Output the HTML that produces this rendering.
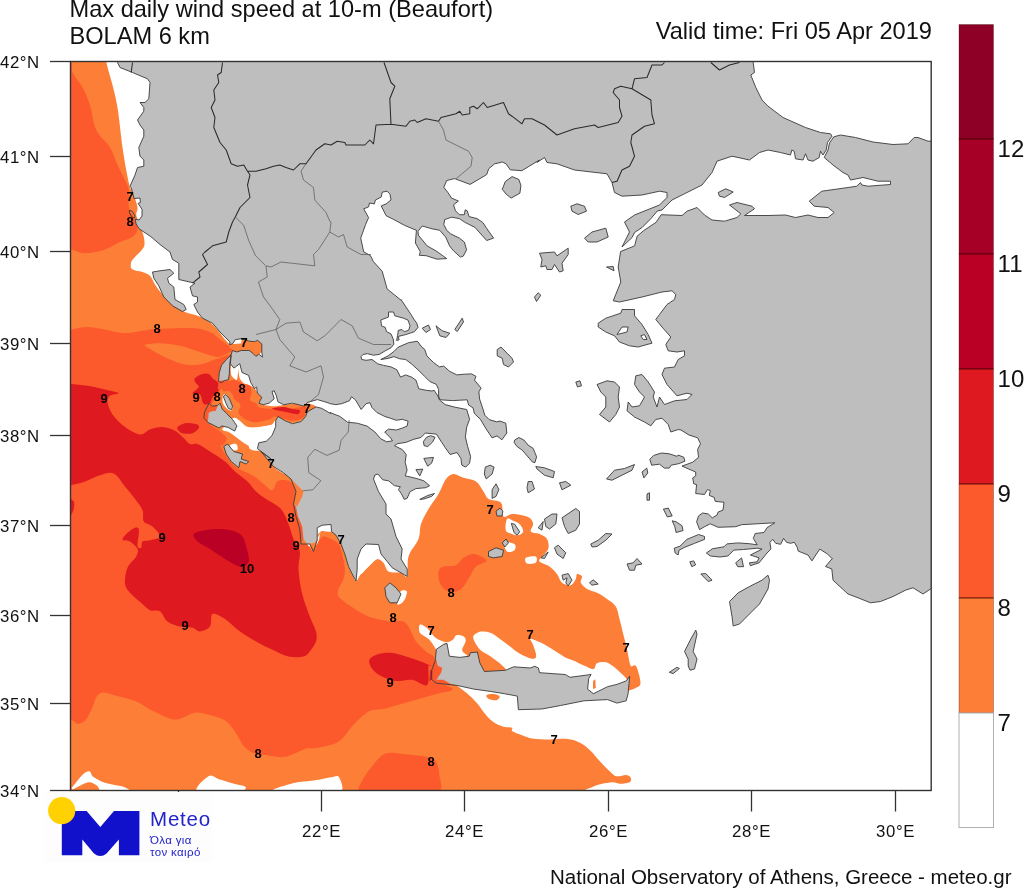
<!DOCTYPE html>
<html lang="en"><head><meta charset="utf-8"><title>Max daily wind speed at 10-m (Beaufort)</title>
<style>
html,body{margin:0;padding:0;background:#fff}
body{width:1024px;height:890px;position:relative;overflow:hidden;font-family:"Liberation Sans",sans-serif}
svg text{font-family:"Liberation Sans",sans-serif;fill:#111}
.tk{font-size:16.8px;letter-spacing:0.55px}
.cl{font-size:13px;font-weight:bold;fill:#000}
.cb{font-size:24px}
.ti{font-size:23.6px}
.ft{font-size:20.5px}
.lg1{font-size:20.5px;fill:#2222CC;letter-spacing:0.8px}
.lg2{font-size:11.5px;fill:#2222CC;letter-spacing:0.35px}
</style></head><body>
<svg width="1024" height="890" viewBox="0 0 1024 890" style="position:absolute;left:0;top:0">
<defs><clipPath id="fr"><rect x="70.5" y="61.5" width="860.7" height="729.0"/></clipPath></defs>
<g clip-path="url(#fr)">
<path d="M60.0,50.0 C61.1,31.6 98.3,48.1 106.0,50.0 C110.5,51.1 105.4,57.0 106.2,61.5 C107.3,67.3 110.6,77.3 112.5,85.0 C114.4,92.7 116.0,98.4 117.5,107.5 C119.2,117.9 121.0,137.1 122.5,147.5 C123.8,156.5 125.0,163.3 126.2,170.0 C127.5,176.7 128.8,183.3 130.0,187.5 C131.0,190.7 132.6,191.9 133.8,195.0 C135.0,198.3 137.1,204.2 137.5,207.5 C137.9,210.5 136.0,212.6 136.2,215.0 C136.5,217.4 138.0,219.2 139.0,222.0 C140.2,225.7 143.0,232.8 143.8,237.0 C144.5,240.9 145.2,243.7 143.8,247.0 C142.3,250.3 137.1,254.5 135.0,257.0 C133.4,258.9 131.9,260.1 131.2,262.0 C130.6,263.9 130.4,266.8 131.2,268.2 C132.1,269.7 134.4,270.1 136.2,270.8 C138.1,271.4 140.2,271.2 142.5,272.0 C144.8,272.8 147.9,273.7 150.0,275.8 C152.1,277.8 152.9,281.4 155.0,284.5 C157.1,287.6 159.6,291.2 162.5,294.5 C165.4,297.8 168.8,301.6 172.5,304.5 C176.2,307.4 180.8,310.1 185.0,312.0 C189.2,313.9 193.8,314.3 197.5,315.8 C201.2,317.2 204.6,318.9 207.5,320.8 C210.4,322.6 212.3,324.1 215.0,327.0 C217.9,330.1 222.5,336.6 225.0,339.5 C226.8,341.6 228.8,343.8 230.0,344.5 C230.9,345.0 231.5,344.1 232.5,343.9 C233.9,343.7 236.0,343.1 238.3,343.2 C241.0,343.3 245.7,344.5 248.6,344.6 C251.5,344.8 254.4,344.5 255.9,343.9 C257.1,343.4 256.5,341.0 257.4,341.0 C258.2,341.0 260.4,342.1 261.0,343.9 C261.7,345.7 261.4,350.3 261.0,352.0 C260.8,353.2 259.7,353.4 258.8,354.2 C258.0,354.9 256.9,356.5 255.9,356.4 C254.9,356.2 254.1,354.4 253.0,353.4 C251.9,352.5 251.1,351.0 249.3,350.5 C247.4,350.0 243.3,350.3 241.3,350.5 C239.4,350.7 237.2,350.1 236.9,352.0 C236.4,354.9 237.7,363.4 238.3,368.1 C238.9,372.7 238.6,376.9 240.5,379.8 C242.5,382.7 247.7,384.2 250.1,385.7 C251.8,386.8 253.0,387.1 254.4,388.6 C255.9,390.1 257.6,393.0 258.8,394.4 C259.9,395.7 261.8,395.9 261.8,397.4 C261.8,398.8 257.1,401.8 258.8,403.2 C260.6,404.7 268.4,405.8 272.0,406.2 C275.5,406.5 277.4,405.8 280.8,405.4 C284.2,405.1 288.6,404.1 292.5,404.0 C296.4,403.8 301.8,404.8 304.3,404.7 C305.6,404.6 305.9,403.1 307.2,403.2 C308.9,403.4 313.0,404.7 314.5,405.4 C315.5,405.9 316.5,406.9 316.0,407.6 C315.5,408.4 313.0,409.1 311.6,409.8 C310.1,410.6 308.2,410.9 307.2,412.0 C306.2,413.1 306.7,415.0 305.7,416.4 C304.7,417.9 303.5,419.7 301.3,420.8 C299.1,421.9 295.2,423.0 292.5,423.0 C289.8,423.0 287.9,421.4 285.2,420.8 C282.5,420.2 278.1,418.9 276.4,419.4 C274.7,419.8 276.2,422.8 275.0,423.7 C273.7,424.7 271.5,424.7 269.1,425.2 C266.7,425.7 263.0,426.3 260.3,426.7 C257.6,427.0 255.4,427.5 253.0,427.4 C250.5,427.3 247.9,427.0 245.7,425.9 C243.5,424.8 241.8,422.2 239.8,420.8 C237.8,419.5 235.7,417.4 233.9,417.9 C232.2,418.4 228.8,421.3 229.5,423.7 C230.3,426.2 235.2,429.6 238.3,432.5 C241.5,435.5 245.4,438.9 248.6,441.3 C251.8,443.8 254.4,445.2 257.4,447.2 C260.3,449.1 263.7,450.9 266.2,453.0 C268.6,455.2 272.9,460.6 272.0,459.9 C271.2,459.3 260.8,448.5 261.0,449.0 C261.2,449.5 269.3,459.0 273.5,462.8 C277.7,466.5 282.2,468.8 286.0,471.5 C289.8,474.2 292.7,475.9 296.0,479.0 C299.3,482.1 305.1,484.3 306.0,490.2 C307.7,501.1 304.1,535.0 306.0,544.0 C306.9,548.4 314.7,546.3 317.2,544.0 C319.8,541.7 319.2,532.5 321.5,530.2 C323.8,528.0 328.6,529.4 331.0,530.2 C333.4,531.1 334.3,533.0 336.0,535.2 C337.7,537.5 339.5,540.9 341.0,544.0 C342.5,547.1 343.5,550.2 344.8,554.0 C346.0,557.8 347.2,563.2 348.5,566.5 C349.7,569.6 351.0,571.6 352.2,574.0 C353.5,576.4 354.5,581.0 356.0,581.0 C357.5,581.0 358.9,576.4 361.0,574.0 C363.1,571.6 365.8,569.0 368.5,566.5 C371.2,564.0 374.8,559.6 377.2,559.0 C379.8,558.4 381.6,560.7 383.5,562.8 C385.4,564.8 385.6,569.8 388.5,571.5 C391.4,573.2 397.9,571.9 401.0,572.8 C403.8,573.5 406.0,579.1 407.2,576.5 C408.5,573.8 406.6,562.8 408.5,556.5 C410.4,550.2 416.4,544.4 418.5,539.0 C420.6,533.6 419.3,529.0 421.0,524.0 C422.7,519.0 425.6,514.0 428.5,509.0 C431.4,504.0 435.6,499.0 438.5,494.0 C441.4,489.0 443.5,482.3 446.0,479.0 C448.2,476.1 450.6,474.2 453.5,474.0 C456.4,473.8 459.8,476.5 463.5,477.8 C467.2,479.0 472.7,479.2 476.0,481.5 C479.3,483.8 481.4,488.6 483.5,491.5 C485.6,494.4 485.6,497.1 488.5,499.0 C491.4,500.9 498.5,499.8 501.0,502.8 C503.5,505.7 501.7,514.6 503.5,516.5 C505.3,518.4 508.9,514.2 512.0,514.0 C515.1,513.8 519.1,514.6 522.0,515.2 C524.9,515.9 527.6,516.3 529.5,517.8 C531.4,519.2 533.0,521.7 533.2,524.0 C533.5,526.3 529.7,529.8 530.8,531.5 C531.8,533.2 536.8,532.8 539.5,534.0 C542.2,535.2 545.5,536.5 547.0,539.0 C548.5,541.5 549.1,546.1 548.2,549.0 C547.4,551.9 543.5,554.4 542.0,556.5 C540.7,558.3 538.2,559.8 539.5,561.5 C540.8,563.2 546.6,564.4 549.5,566.5 C552.4,568.6 554.9,571.3 557.0,574.0 C559.1,576.7 559.7,580.9 562.0,582.8 C564.3,584.6 568.5,585.9 570.8,585.2 C573.0,584.6 574.7,580.9 575.8,579.0 C576.8,577.2 576.0,574.4 577.0,574.0 C578.0,573.6 581.4,575.0 582.0,576.5 C582.6,578.0 579.9,580.7 580.8,582.8 C581.6,584.8 584.3,587.3 587.0,589.0 C589.7,590.7 593.7,591.1 597.0,592.8 C600.3,594.4 603.9,596.7 607.0,599.0 C610.1,601.3 613.7,603.2 615.8,606.5 C617.8,609.8 618.2,614.4 619.5,619.0 C620.8,623.6 622.0,629.0 623.2,634.0 C624.5,639.0 625.8,643.7 627.0,649.0 C628.2,654.3 629.3,663.2 630.8,666.0 C631.6,667.7 634.3,664.2 635.6,665.6 C637.0,667.1 638.3,671.9 639.1,675.0 C639.9,678.1 640.9,682.2 640.3,684.4 C639.7,686.5 637.4,686.9 635.6,687.9 C633.9,688.9 632.1,689.4 629.7,690.2 C627.0,691.2 623.6,693.5 619.2,693.7 C607.7,694.3 582.1,695.3 560.6,693.7 C539.1,692.2 507.5,685.7 490.3,684.4 C477.2,683.3 463.0,685.2 457.5,685.5 C457.3,685.6 457.2,686.0 457.4,686.1 C459.0,687.5 464.1,690.8 467.4,693.7 C470.8,696.6 474.6,700.4 477.5,703.8 C480.4,707.1 482.5,710.9 485.0,713.8 C487.6,716.8 489.7,719.3 492.6,721.4 C495.5,723.5 499.4,725.4 502.7,726.4 C505.9,727.5 510.4,726.9 512.0,727.7 C513.2,728.2 511.0,730.2 512.0,730.9 C513.7,732.2 518.7,734.0 522.1,735.2 C525.4,736.5 528.0,737.8 532.1,738.5 C536.8,739.2 543.9,739.4 549.8,739.5 C555.6,739.6 562.3,738.4 567.4,739.0 C572.4,739.5 576.2,740.9 580.0,742.8 C583.7,744.7 586.7,747.2 590.0,750.3 C593.4,753.5 596.7,758.1 600.1,761.6 C603.5,765.2 607.4,769.3 610.2,771.7 C612.5,773.8 613.7,775.7 616.5,776.2 C619.2,776.8 624.1,774.7 626.5,775.0 C628.6,775.2 630.3,776.8 630.8,778.0 C631.3,779.2 631.3,781.4 629.8,782.3 C628.0,783.2 623.1,783.8 620.2,783.8 C617.4,783.8 615.8,782.2 612.7,782.3 C609.3,782.4 603.9,783.3 600.1,784.3 C596.3,785.3 592.5,787.0 590.0,788.1 C587.9,788.9 585.8,789.1 585.0,790.6 C584.2,792.1 587.5,796.8 585.0,796.9 C497.5,798.5 147.5,924.5 60.0,800.0 C-27.5,675.5 52.3,175.0 60.0,50.0Z M486.8,694.9 C488.0,694.2 492.8,693.9 495.0,694.2 C497.1,694.5 499.5,695.5 499.7,696.6 C499.9,697.6 498.1,700.0 496.2,700.3 C494.2,700.6 489.5,699.3 488.0,698.4 C486.7,697.7 485.6,695.6 486.8,694.9Z M593.0,680.9 C593.2,679.7 594.9,678.2 595.3,679.2 C595.8,680.4 596.2,686.2 595.8,687.9 C595.5,689.1 593.4,690.2 593.0,689.1 C592.5,687.9 592.6,682.5 593.0,680.9Z" fill="#FD7E36" />
<path d="M420.0,624.6 C421.2,623.8 424.6,626.1 427.0,628.1 C429.6,630.3 432.1,635.2 435.2,637.5 C438.4,639.8 442.8,641.8 445.8,642.2 C448.7,642.6 451.1,641.0 452.8,639.8 C454.6,638.7 454.6,635.7 456.3,635.2 C458.1,634.6 461.8,635.3 463.4,636.3 C464.9,637.3 465.9,638.9 465.7,641.0 C465.5,643.4 462.0,647.8 462.2,650.4 C462.4,652.9 469.2,655.1 466.9,656.2 C464.5,657.4 451.4,659.4 448.1,657.4 C444.8,655.5 447.7,646.7 447.0,644.5 C446.5,643.2 444.1,643.3 443.4,644.5 C442.1,646.9 439.9,657.6 438.7,658.6 C437.6,659.6 437.9,653.4 436.4,650.4 C434.8,647.3 432.1,642.8 429.4,639.8 C426.6,636.9 421.6,635.3 420.0,632.8 C418.4,630.3 418.8,625.4 420.0,624.6Z M473.4,638.7 C473.1,637.3 472.9,636.1 473.9,635.2 C475.2,634.0 478.2,632.0 480.9,631.6 C483.7,631.2 487.2,631.6 490.3,632.8 C493.4,634.0 496.6,636.5 499.7,638.7 C502.8,640.8 505.9,643.4 509.1,645.7 C512.2,648.0 515.3,650.8 518.4,652.7 C521.6,654.7 525.1,656.4 527.8,657.4 C530.5,658.4 533.5,659.2 534.8,658.6 C536.2,658.0 536.3,655.8 536.0,653.9 C535.6,651.4 533.5,645.9 532.5,643.4 C531.7,641.4 529.4,639.1 530.1,638.7 C530.9,638.3 534.5,639.8 537.2,641.0 C539.9,642.2 543.4,643.9 546.6,645.7 C549.7,647.5 552.8,649.6 555.9,651.6 C559.1,653.5 562.2,655.9 565.3,657.4 C568.4,659.0 571.6,659.6 574.7,660.9 C577.8,662.3 580.9,664.3 584.0,665.6 C587.2,667.0 591.3,669.5 593.4,669.1 C595.6,668.7 595.0,664.4 596.9,663.3 C598.9,662.1 602.6,661.7 605.1,662.1 C607.7,662.5 609.8,664.1 612.2,665.6 C614.5,667.2 616.9,669.3 619.2,671.5 C621.5,673.6 624.7,676.4 626.2,678.5 C627.7,680.6 630.5,682.8 628.6,684.4 C625.5,686.9 616.7,693.1 607.5,693.7 C596.2,694.5 576.2,691.4 560.6,689.1 C545.0,686.7 522.7,682.8 513.7,679.7 C509.3,678.1 509.1,673.0 506.7,670.3 C504.4,667.6 502.4,665.6 499.7,663.3 C496.9,660.9 493.4,658.4 490.3,656.2 C487.2,654.1 483.3,652.3 480.9,650.4 C478.6,648.5 477.5,646.5 476.2,644.5 C475.0,642.6 473.8,640.2 473.4,638.7Z M233.9,417.9 C235.7,417.4 236.6,419.5 238.3,420.8 C240.3,422.3 243.2,425.5 245.7,426.7 C248.1,427.8 250.1,427.8 253.0,427.8 C255.9,427.8 260.1,427.2 263.2,426.7 C266.4,426.1 270.1,425.5 272.0,424.5 C273.7,423.6 274.0,420.9 275.0,420.8 C275.9,420.7 277.8,422.3 277.9,423.7 C278.0,425.2 276.7,427.4 275.7,429.6 C274.7,431.8 273.6,434.9 272.0,436.9 C270.4,439.0 268.4,441.0 266.2,442.1 C264.0,443.2 260.3,442.4 258.8,443.5 C257.4,444.6 259.1,448.3 257.4,448.6 C255.7,449.0 251.5,447.2 248.6,445.7 C245.7,444.3 243.0,442.1 239.8,439.9 C236.6,437.7 232.5,434.2 229.5,432.5 C226.8,430.9 222.5,431.1 222.2,429.6 C222.0,428.1 226.1,425.7 228.1,423.7 C230.0,421.8 232.2,418.4 233.9,417.9Z M208.7,412.8 C209.2,411.4 212.5,411.9 213.4,413.5 C214.3,415.1 214.7,420.9 214.2,422.3 C213.7,423.6 211.2,422.8 210.5,421.5 C209.6,420.0 208.3,414.1 208.7,412.8Z M223.0,395.9 C223.6,394.5 225.5,393.3 226.6,394.4 C228.2,396.2 231.6,403.5 232.5,406.2 C233.0,407.9 232.6,410.1 231.7,410.6 C230.9,411.1 228.8,410.3 227.4,409.1 C225.9,407.9 223.7,405.4 223.0,403.2 C222.2,401.0 222.3,397.4 223.0,395.9Z M231.7,364.4 C233.2,362.7 238.2,362.3 239.8,363.7 C241.4,365.0 239.8,370.5 241.3,372.5 C242.7,374.4 247.0,373.7 248.6,375.4 C250.2,377.1 251.5,381.4 250.8,382.7 C250.1,384.1 245.8,384.0 244.2,383.5 C242.6,383.0 241.9,381.6 241.3,379.8 C240.4,377.3 239.8,368.4 239.1,368.4 C238.3,368.4 237.7,378.1 236.9,379.8 C236.3,381.0 234.9,379.3 233.9,378.3 C233.0,377.4 231.3,376.0 231.0,373.9 C230.6,371.6 230.3,366.1 231.7,364.4Z M232.5,343.9 C231.5,343.3 233.9,340.4 235.4,339.5 C236.9,338.7 240.3,338.2 241.3,338.8 C242.2,339.4 242.7,342.3 241.3,343.2 C239.8,344.0 233.5,344.5 232.5,343.9Z M230.0,445.2 C230.6,444.2 235.0,443.3 236.2,444.0 C237.5,444.7 238.1,448.5 237.5,449.5 C236.9,450.5 233.8,451.0 232.5,450.2 C231.2,449.5 229.4,446.3 230.0,445.2Z M250.0,441.5 C251.7,440.2 258.3,440.0 260.0,441.5 C261.7,443.0 261.7,449.0 260.0,450.2 C258.3,451.5 251.7,450.5 250.0,449.0 C248.3,447.5 248.3,442.8 250.0,441.5Z M317.2,527.8 C317.9,526.1 320.0,525.1 322.2,524.5 C324.5,523.9 329.5,522.8 331.0,524.0 C332.5,525.2 333.1,530.3 331.5,531.5 C329.9,532.7 323.7,530.5 321.5,531.0 C319.7,531.4 319.2,535.0 318.5,534.5 C317.8,534.0 316.6,529.4 317.2,527.8Z M357.2,569.0 C356.6,566.5 356.6,562.3 357.2,559.0 C357.9,555.7 359.5,551.5 361.0,549.0 C362.4,546.6 363.3,544.7 366.0,544.0 C368.9,543.2 376.0,542.8 378.5,544.5 C381.0,546.2 380.1,551.1 381.0,554.0 C381.9,556.9 384.6,561.2 384.0,562.0 C383.4,562.8 379.8,558.2 377.2,559.0 C374.7,559.8 371.2,564.0 368.5,566.5 C365.8,569.0 362.9,573.6 361.0,574.0 C359.1,574.4 357.9,571.4 357.2,569.0Z M274.8,467.0 C276.8,468.0 287.0,474.2 288.5,475.2 C290.0,476.3 285.4,474.4 283.5,473.5 C281.4,472.5 277.5,470.1 276.0,469.0 C275.2,468.4 273.9,466.6 274.8,467.0Z M400.5,591.5 C401.9,589.5 405.6,590.2 406.5,591.0 C407.4,591.8 406.7,594.5 406.0,596.5 C405.3,598.5 403.7,601.5 402.2,602.8 C400.8,604.0 397.5,605.9 397.2,604.0 C397.0,602.1 399.0,593.7 400.5,591.5Z M507.0,519.0 C508.0,517.3 510.1,519.5 512.0,520.2 C514.1,521.1 517.6,522.1 519.5,524.0 C521.4,525.9 523.5,529.6 523.2,531.5 C523.0,533.4 520.1,534.8 518.2,535.2 C516.4,535.7 514.1,534.8 512.0,534.0 C509.9,533.2 506.6,532.8 505.8,530.2 C504.9,527.8 506.0,520.7 507.0,519.0Z M504.5,542.8 C505.8,541.5 512.8,542.8 514.5,544.0 C516.2,545.2 515.8,549.0 514.5,550.2 C513.2,551.5 508.7,552.8 507.0,551.5 C505.3,550.2 503.2,544.0 504.5,542.8Z M525.8,557.8 C527.2,556.6 534.1,555.7 535.8,556.5 C537.4,557.3 537.2,561.6 535.8,562.8 C534.3,563.9 528.7,564.3 527.0,563.5 C525.3,562.7 524.3,558.9 525.8,557.8Z M71.7,788.1 C73.4,785.6 80.1,777.0 83.1,774.2 C85.1,772.3 87.7,770.8 89.4,771.2 C91.0,771.6 91.0,775.2 93.1,776.7 C95.9,778.7 100.7,781.4 105.7,783.0 C110.7,784.7 119.3,785.3 123.3,786.8 C126.4,787.9 132.8,791.1 129.6,791.8 C126.1,792.7 107.4,792.9 101.9,791.8 C98.8,791.2 99.2,787.2 96.9,785.6 C94.6,784.0 91.8,781.7 88.1,782.3 C84.1,782.9 75.7,788.4 73.0,789.3 C72.3,789.6 71.3,788.7 71.7,788.1Z M197.6,791.8 C192.1,789.2 205.3,778.1 208.9,776.0 C212.5,773.9 214.9,778.0 219.0,779.3 C223.2,780.6 229.7,782.5 234.1,783.8 C238.5,785.1 244.1,785.5 245.4,786.8 C246.7,788.2 244.1,791.6 241.6,791.8 C233.7,792.7 203.0,794.5 197.6,791.8Z M273.6,791.8 C265.9,790.4 287.0,784.9 293.8,783.0 C300.5,781.2 307.6,781.5 313.9,780.5 C320.2,779.6 327.3,777.8 331.5,777.3 C334.5,776.9 337.7,774.8 339.1,777.3 C340.4,779.7 345.5,790.6 339.8,791.8 C328.9,794.3 281.3,793.3 273.6,791.8Z" fill="#fff" />
<path d="M60.0,50.0 C60.4,43.6 69.2,57.8 71.2,61.5 C73.3,65.2 70.7,68.4 72.5,72.5 C74.4,76.8 79.6,82.1 82.5,87.5 C85.4,92.9 87.7,97.9 90.0,105.0 C92.3,112.1 92.9,122.9 96.2,130.0 C99.6,137.1 106.5,141.7 110.0,147.5 C113.5,153.3 115.0,159.6 117.5,165.0 C120.0,170.4 123.1,175.8 125.0,180.0 C126.8,183.9 128.2,185.8 128.8,190.0 C129.4,194.6 128.1,203.3 128.8,207.5 C129.2,210.8 131.5,212.6 132.5,215.0 C133.5,217.4 134.2,219.6 135.0,222.0 C135.8,224.4 137.9,227.0 137.5,229.5 C137.1,232.0 135.4,234.9 132.5,237.0 C129.6,239.1 124.6,239.9 120.0,242.0 C115.4,244.1 110.8,247.6 105.0,249.5 C99.2,251.4 90.7,253.2 85.0,253.2 C79.3,253.2 74.9,250.1 70.8,249.5 C66.6,248.9 60.2,253.8 60.0,249.5 C58.2,216.2 58.1,81.3 60.0,50.0Z M60.0,329.5 C60.1,325.2 66.5,329.9 70.8,329.5 C75.3,329.1 81.8,327.0 87.5,327.0 C93.2,327.0 98.8,328.5 105.0,329.5 C111.2,330.5 117.5,333.2 125.0,333.2 C132.5,333.2 141.7,330.3 150.0,329.5 C158.3,328.7 167.5,328.5 175.0,328.2 C182.5,328.0 189.2,327.6 195.0,328.2 C200.8,328.9 205.8,330.1 210.0,332.0 C214.2,333.9 216.7,337.0 220.0,339.5 C223.3,342.0 227.9,344.9 230.0,347.0 C231.6,348.6 233.1,350.0 232.5,352.0 C231.9,354.0 228.5,357.1 226.6,359.3 C224.8,361.5 222.7,363.0 221.5,365.2 C220.3,367.4 219.8,369.9 219.3,372.5 C218.8,375.0 218.2,379.2 218.6,380.5 C218.9,381.7 220.3,380.4 221.5,380.5 C223.1,380.7 226.0,381.4 228.1,381.3 C230.2,381.1 232.2,379.8 233.9,379.8 C235.7,379.8 236.6,380.5 238.3,381.3 C240.0,382.0 242.2,383.5 244.2,384.2 C246.1,384.9 248.8,384.2 250.1,385.7 C251.3,387.1 251.5,390.5 251.5,393.0 C251.5,395.4 249.3,398.6 250.1,400.3 C250.8,402.0 254.4,402.0 255.9,403.2 C257.4,404.5 256.9,406.9 258.8,407.6 C261.5,408.6 267.9,408.7 272.0,409.1 C276.2,409.5 279.4,410.1 283.7,409.8 C288.1,409.6 294.7,408.2 298.4,407.6 C301.3,407.1 304.5,405.4 305.7,406.2 C306.9,406.9 306.2,410.1 305.7,412.0 C305.2,414.0 305.0,416.4 302.8,417.9 C300.6,419.4 295.7,420.7 292.5,420.8 C289.4,420.9 286.7,419.4 283.7,418.6 C280.8,417.9 277.4,416.3 275.0,416.4 C272.5,416.5 271.6,418.6 269.1,419.4 C265.9,420.3 259.3,422.0 255.9,422.3 C252.9,422.5 251.0,421.8 248.6,420.8 C246.1,419.8 243.0,417.9 241.3,416.4 C239.7,415.0 238.5,413.7 238.3,412.0 C238.2,410.3 240.5,407.9 240.5,406.2 C240.5,404.5 239.4,403.0 238.3,401.8 C237.2,400.6 234.9,400.1 233.9,398.8 C233.0,397.6 233.5,395.8 232.5,394.4 C231.5,393.1 229.5,391.3 228.1,390.8 C226.6,390.3 224.8,391.9 223.7,391.5 C222.6,391.2 222.6,387.7 221.5,388.6 C220.0,389.8 216.7,395.9 214.9,398.8 C213.1,401.7 212.0,404.0 210.5,406.2 C209.0,408.4 207.1,410.1 206.1,412.0 C205.1,414.0 204.2,415.9 204.6,417.9 C205.1,419.8 206.9,421.8 209.0,423.7 C211.5,425.9 216.4,428.6 219.3,431.1 C222.2,433.5 226.1,436.0 226.6,438.4 C227.1,440.8 223.3,444.8 222.2,445.7 C221.4,446.4 219.6,442.9 220.0,444.0 C220.5,445.4 222.5,450.3 225.0,454.0 C227.5,457.8 230.8,463.2 235.0,466.5 C239.2,469.8 246.5,472.1 250.0,474.0 C252.5,475.3 253.8,476.1 256.0,477.8 C258.2,479.4 260.8,481.9 263.5,484.0 C266.2,486.1 270.0,490.7 272.2,490.2 C274.5,489.8 275.0,483.2 277.2,481.5 C279.5,479.8 283.3,479.8 286.0,480.2 C288.7,480.7 291.4,481.7 293.5,484.0 C295.6,486.3 298.1,490.2 298.5,494.0 C298.9,497.8 296.1,502.8 296.0,506.5 C295.9,510.2 297.0,513.2 298.0,516.5 C299.0,519.8 301.3,522.8 302.2,526.5 C303.2,530.2 302.7,536.1 303.5,539.0 C304.2,541.4 305.7,542.0 307.2,544.0 C308.9,546.1 311.6,551.9 313.5,551.5 C315.4,551.1 316.8,544.0 318.5,541.5 C320.1,539.1 321.4,536.9 323.5,536.5 C325.6,536.1 328.5,537.8 331.0,539.0 C333.5,540.2 336.6,541.5 338.5,544.0 C340.4,546.5 341.2,549.9 342.2,554.0 C343.3,558.2 344.5,564.8 344.8,569.0 C345.0,573.0 344.5,575.7 343.5,579.0 C342.5,582.3 339.3,586.1 338.5,589.0 C337.7,591.9 336.8,594.1 338.5,596.5 C340.6,599.4 346.0,603.2 351.0,606.5 C356.0,609.8 361.8,614.0 368.5,616.5 C375.2,619.0 385.2,620.7 391.0,621.5 C395.9,622.2 400.4,620.2 403.5,621.5 C406.6,622.8 407.7,625.7 409.8,629.0 C411.8,632.3 413.3,637.8 416.0,641.5 C418.7,645.2 422.9,648.6 426.0,651.5 C429.1,654.4 434.1,654.5 434.8,659.0 C435.4,663.5 430.1,674.9 429.7,678.6 C429.5,680.0 430.9,680.5 432.2,681.1 C435.1,682.4 443.9,684.7 447.3,686.1 C449.6,687.1 454.0,688.7 452.3,689.9 C450.6,691.2 442.7,692.2 437.2,693.7 C431.8,695.2 425.5,697.0 419.6,698.7 C413.7,700.4 407.9,702.1 402.0,703.8 C396.1,705.4 389.8,707.5 384.4,708.8 C378.9,710.0 374.3,708.8 369.3,711.3 C364.2,713.8 358.4,719.7 354.2,723.9 C350.0,728.1 347.0,733.3 344.1,736.5 C341.4,739.3 340.1,741.2 336.5,742.8 C332.3,744.7 324.0,746.8 318.9,747.8 C314.0,748.8 310.1,747.7 306.3,748.6 C302.6,749.4 300.0,751.4 296.3,752.8 C292.5,754.3 288.3,756.7 283.7,757.1 C279.1,757.5 273.2,755.9 268.6,755.4 C264.0,754.8 260.1,755.6 256.0,754.1 C251.9,752.6 247.4,749.9 244.1,746.5 C240.9,743.2 239.5,738.2 236.6,734.0 C233.7,729.8 230.3,724.3 226.5,721.4 C222.8,718.4 219.0,717.8 213.9,716.3 C208.9,714.9 201.8,712.2 196.3,712.6 C190.9,712.9 185.4,717.3 181.2,718.4 C177.3,719.3 175.1,719.9 171.2,718.9 C166.5,717.7 159.4,714.2 153.5,711.3 C147.7,708.4 141.8,703.8 135.9,701.2 C130.0,698.7 123.8,697.7 118.3,696.2 C112.8,694.7 106.8,692.4 103.2,692.4 C100.3,692.4 98.6,693.8 96.9,696.2 C95.0,698.9 93.8,704.8 91.9,708.8 C90.0,712.8 87.9,717.6 85.6,720.1 C83.3,722.6 80.4,723.9 78.0,723.9 C75.6,723.9 74.2,720.7 71.2,720.1 C68.3,719.5 60.5,724.4 60.4,720.1 C58.5,655.0 58.3,394.6 60.0,329.5Z M438.5,571.5 C439.1,568.8 440.8,567.5 443.5,566.5 C446.4,565.5 452.7,566.7 456.0,565.2 C459.3,563.8 460.6,559.6 463.5,557.8 C466.4,555.9 470.2,554.0 473.5,554.0 C476.8,554.0 481.4,556.5 483.5,557.8 C485.0,558.7 487.2,560.1 486.0,561.5 C484.8,563.0 478.7,564.0 476.0,566.5 C473.3,569.0 471.8,573.2 469.8,576.5 C467.7,579.8 465.8,584.0 463.5,586.5 C461.2,589.0 458.9,590.9 456.0,591.5 C453.1,592.1 448.7,591.7 446.0,590.2 C443.3,588.8 441.0,585.9 439.8,582.8 C438.5,579.6 437.9,574.2 438.5,571.5Z M360.5,791.8 C355.4,791.0 361.1,783.5 363.0,779.3 C364.9,775.1 368.6,770.7 371.8,766.7 C374.9,762.7 378.5,757.7 381.8,755.4 C385.2,753.0 387.8,753.0 391.9,752.8 C396.1,752.7 401.1,753.9 407.0,754.6 C412.9,755.3 422.3,755.9 427.2,757.1 C431.0,758.1 434.0,758.8 436.0,761.6 C438.0,764.5 438.9,769.2 439.2,774.2 C439.5,779.3 444.6,790.3 437.7,791.8 C424.6,794.8 372.9,793.9 360.5,791.8Z" fill="#FC592C" />
<path d="M145.0,344.5 C147.5,344.1 154.2,343.0 160.0,343.2 C165.8,343.5 173.3,344.3 180.0,345.8 C186.7,347.2 193.8,350.1 200.0,352.0 C206.2,353.9 213.3,356.6 217.5,357.0 C220.6,357.3 222.7,355.4 225.0,354.5 C227.3,353.6 230.0,351.7 231.2,351.5 C232.1,351.4 233.3,352.9 232.5,353.2 C229.8,354.6 220.4,357.6 215.0,359.5 C209.6,361.4 205.0,363.7 200.0,364.5 C195.0,365.3 190.0,365.3 185.0,364.5 C180.0,363.7 175.0,361.6 170.0,359.5 C165.0,357.4 159.2,354.3 155.0,352.0 C150.9,349.7 146.7,347.0 145.0,345.8 C144.6,345.4 144.5,344.6 145.0,344.5Z" fill="#FD7E36" />
<path d="M60.0,384.0 C60.5,379.7 66.5,383.7 70.8,384.0 C75.3,384.3 81.8,384.8 87.5,385.8 C93.2,386.7 99.8,388.2 105.0,389.5 C110.2,390.8 117.9,392.2 118.8,393.2 C119.6,394.3 111.9,394.3 110.0,395.8 C108.1,397.2 107.1,399.3 107.5,402.0 C107.9,405.1 109.6,410.3 112.5,414.5 C115.4,418.7 120.4,423.7 125.0,427.0 C129.6,430.3 135.8,434.1 140.0,434.5 C144.2,434.9 146.2,430.8 150.0,429.5 C153.8,428.2 158.3,426.8 162.5,427.0 C166.7,427.2 171.7,429.1 175.0,430.8 C178.3,432.4 180.0,434.8 182.5,437.0 C185.0,439.2 187.5,442.8 190.0,444.0 C192.5,445.2 194.7,442.9 197.5,444.0 C200.8,445.2 205.4,448.6 210.0,451.5 C214.6,454.4 220.8,458.2 225.0,461.5 C229.2,464.8 231.2,468.2 235.0,471.5 C238.8,474.8 244.0,478.2 247.5,481.5 C251.0,484.8 252.9,488.6 256.0,491.5 C259.1,494.4 261.9,496.1 266.0,499.0 C270.2,501.9 277.2,504.8 281.0,509.0 C284.8,513.2 286.4,519.0 288.5,524.0 C290.6,529.0 291.6,534.4 293.5,539.0 C295.4,543.6 298.9,546.5 299.8,551.5 C300.6,556.5 298.1,562.0 298.5,569.0 C298.9,576.1 300.4,586.1 302.2,594.0 C304.1,601.9 307.5,610.2 309.8,616.5 C312.0,622.6 315.0,627.3 316.0,631.5 C317.0,635.4 317.0,638.2 316.0,641.5 C315.0,644.8 311.8,649.0 309.8,651.5 C307.7,654.0 306.6,655.8 303.5,656.5 C300.0,657.3 293.9,657.8 288.5,656.5 C283.1,655.2 276.4,651.5 271.0,649.0 C265.6,646.5 261.2,644.4 256.0,641.5 C250.8,638.6 245.2,635.2 240.0,631.5 C234.8,627.8 229.6,621.9 225.0,619.0 C220.5,616.1 215.0,612.8 212.5,614.0 C210.0,615.2 212.1,623.6 210.0,626.5 C207.9,629.4 202.9,631.3 200.0,631.5 C197.1,631.7 195.8,628.6 192.5,627.8 C189.2,626.9 184.2,627.5 180.0,626.5 C175.8,625.5 170.8,624.0 167.5,621.5 C164.2,619.0 162.9,613.4 160.0,611.5 C157.1,609.6 152.9,611.5 150.0,610.2 C147.1,609.0 145.5,606.6 142.5,604.0 C139.4,601.3 134.2,597.3 131.2,594.0 C128.3,590.7 125.6,588.4 125.0,584.0 C124.4,579.6 125.6,572.3 127.5,567.8 C129.4,563.2 134.6,559.6 136.2,556.5 C137.7,553.8 138.5,551.5 137.5,549.0 C136.5,546.5 132.5,543.2 130.0,541.5 C127.5,539.8 122.1,541.1 122.5,539.0 C122.9,536.9 129.8,530.7 132.5,529.0 C134.6,527.7 138.1,526.6 138.8,529.0 C139.6,531.9 137.1,543.4 137.5,546.5 C137.7,548.1 140.4,548.6 141.2,547.8 C142.1,546.9 141.0,542.8 142.5,541.5 C144.0,540.2 147.1,541.1 150.0,540.2 C152.9,539.4 159.6,538.8 160.0,536.5 C160.4,534.2 155.2,529.0 152.5,526.5 C149.8,524.0 145.4,524.2 143.8,521.5 C142.1,518.8 144.0,514.0 142.5,510.2 C141.0,506.5 137.9,503.0 135.0,499.0 C132.1,495.0 128.5,490.8 125.0,486.5 C121.5,482.2 117.9,475.4 113.8,473.5 C109.6,471.6 104.8,473.9 100.0,475.2 C95.2,476.6 89.9,479.8 85.0,481.5 C80.1,483.2 74.9,484.6 70.8,485.2 C66.6,485.9 60.5,489.5 60.0,485.2 C58.2,468.4 58.2,400.9 60.0,384.0Z M177.5,427.0 C178.7,425.9 181.7,423.7 185.0,423.2 C188.3,422.8 195.2,423.7 197.5,424.5 C199.0,425.0 199.5,426.9 198.8,428.2 C197.9,429.7 195.2,432.4 192.5,433.2 C189.8,434.1 184.9,433.8 182.5,433.2 C180.3,432.8 178.8,431.0 178.0,430.0 C177.2,429.1 176.6,427.8 177.5,427.0Z M195.0,378.2 C196.2,376.9 200.2,374.7 202.5,374.0 C204.8,373.3 207.1,373.3 208.8,374.0 C210.4,374.7 211.0,376.9 212.5,378.2 C214.0,379.6 216.2,380.5 217.5,382.0 C218.8,383.5 220.2,384.9 220.0,387.0 C219.8,389.1 217.5,392.8 216.2,394.5 C215.2,395.9 213.5,395.5 212.5,397.0 C211.5,398.5 211.2,402.0 210.0,403.2 C208.8,404.5 206.2,404.7 205.0,404.5 C203.8,404.3 203.1,403.3 202.5,402.0 C201.7,400.3 201.7,396.0 200.0,394.5 C198.3,393.0 192.7,394.5 192.5,393.2 C192.3,392.0 198.3,388.9 198.8,387.0 C199.2,385.1 195.6,383.5 195.0,382.0 C194.4,380.6 194.0,379.3 195.0,378.2Z M67.5,499.0 C68.5,496.7 72.7,499.8 73.8,501.5 C74.8,503.2 74.2,506.7 73.8,509.0 C73.2,511.3 71.8,514.2 70.8,515.2 C69.8,516.2 67.8,516.5 67.5,515.2 C67.0,512.5 66.5,501.3 67.5,499.0Z M369.8,659.0 C371.1,657.0 375.0,655.0 378.5,654.0 C382.0,653.0 386.4,652.3 391.0,652.8 C395.6,653.2 401.0,655.0 406.0,656.5 C411.0,658.0 416.8,659.9 421.0,661.5 C425.1,663.1 429.8,665.2 431.0,666.0 C431.9,666.5 428.6,665.0 428.4,666.0 C427.8,669.1 429.9,682.6 427.2,684.9 C424.4,687.2 417.1,680.5 412.1,679.8 C407.0,679.2 401.1,681.3 397.0,681.1 C392.8,680.9 390.2,679.8 386.9,678.6 C383.5,677.3 379.5,675.6 376.8,673.6 C374.1,671.5 371.7,668.4 370.5,666.0 C369.3,663.6 368.4,661.0 369.8,659.0Z M272.0,408.4 C273.0,407.8 280.3,406.8 283.7,406.9 C287.2,407.0 289.8,408.5 292.5,409.1 C295.2,409.7 299.0,409.7 299.9,410.6 C300.7,411.4 299.3,413.9 297.7,414.2 C296.0,414.6 292.8,413.4 289.6,412.8 C286.3,412.1 280.8,411.3 277.9,410.6 C275.5,410.0 271.1,409.0 272.0,408.4Z" fill="#DE1A20" />
<path d="M193.8,534.0 C195.0,532.1 200.6,531.1 205.0,530.2 C209.4,529.4 215.0,528.8 220.0,529.0 C225.0,529.2 231.2,530.2 235.0,531.5 C238.4,532.6 240.6,534.0 242.5,536.5 C244.4,539.0 245.2,542.4 246.2,546.5 C247.3,550.7 249.8,558.2 248.8,561.5 C247.7,564.8 244.0,566.9 240.0,566.5 C236.0,566.1 230.0,561.9 225.0,559.0 C220.0,556.1 214.6,551.9 210.0,549.0 C205.4,546.1 200.2,544.0 197.5,541.5 C195.0,539.2 192.5,535.9 193.8,534.0Z" fill="#BB0026" />
<path d="M117.5,50.0 L117.5,62.5 L120.0,67.5 L132.5,72.5 L147.5,78.8 L150.0,82.5 L148.8,98.8 L145.0,102.5 L140.0,102.5 L143.8,107.5 L143.8,111.2 L137.5,120.0 L140.0,125.0 L143.8,130.0 L143.8,136.2 L138.8,147.5 L140.0,156.2 L143.8,160.0 L143.8,166.2 L137.5,167.5 L135.0,175.0 L130.0,186.2 L131.2,187.8 L134.2,198.6 L140.0,198.0 L140.4,202.5 L138.1,203.4 L142.0,209.3 L142.0,216.1 L139.1,220.0 L135.2,219.1 L136.1,223.9 L139.1,228.8 L150.8,236.6 L160.0,244.5 L170.0,252.0 L172.5,259.5 L178.8,263.2 L178.8,279.5 L195.0,283.2 L190.0,287.0 L192.5,295.8 L197.5,297.0 L197.5,302.0 L193.8,304.5 L197.5,312.0 L202.5,318.2 L212.5,323.2 L220.0,332.0 L230.0,342.0 L229.5,344.6 L232.5,343.9 L235.4,339.5 L241.3,338.8 L248.6,341.0 L254.4,341.7 L257.4,340.3 L261.8,343.9 L261.8,352.0 L262.5,357.1 L258.8,354.2 L255.9,356.4 L253.0,353.4 L249.3,350.5 L241.3,350.5 L236.9,352.0 L232.5,350.5 L231.0,354.9 L231.0,357.1 L230.3,363.7 L233.9,368.1 L239.8,363.7 L242.0,372.5 L248.6,375.4 L250.8,382.7 L254.4,388.6 L256.6,387.1 L257.4,393.0 L261.8,397.4 L258.8,403.2 L263.2,404.7 L269.1,403.2 L274.2,398.8 L272.0,391.5 L274.2,390.8 L276.4,395.9 L277.9,401.8 L283.7,404.7 L292.5,403.2 L304.3,406.2 L307.2,402.5 L317.4,399.6 L324.8,401.8 L329.2,403.2 L330.0,403.7 L335.9,404.6 L341.7,403.7 L349.5,400.7 L351.5,396.8 L355.4,399.8 L361.2,409.5 L366.1,403.7 L370.0,402.7 L372.0,407.6 L376.9,412.5 L384.7,416.4 L390.5,418.3 L396.4,420.3 L402.3,419.3 L408.1,421.2 L407.1,426.1 L402.3,428.1 L396.4,430.0 L388.6,429.1 L384.7,432.0 L390.5,437.9 L392.5,440.8 L386.6,441.8 L380.8,438.8 L374.9,432.0 L367.1,426.1 L357.3,423.2 L347.6,422.2 L339.8,416.4 L330.0,412.5 L330.6,413.5 L321.8,408.4 L316.0,406.9 L307.2,412.0 L305.7,416.4 L301.3,421.5 L292.5,423.7 L285.2,420.8 L277.9,416.4 L275.7,420.8 L275.7,426.7 L272.0,435.5 L266.2,441.3 L258.8,442.8 L257.4,448.6 L263.2,453.0 L269.1,457.4 L272.0,459.9 L261.0,451.5 L273.5,466.5 L283.5,472.8 L291.0,479.0 L296.0,491.5 L293.5,504.0 L296.0,516.5 L299.8,529.0 L301.0,544.0 L309.8,544.0 L313.5,551.5 L317.2,540.2 L317.2,527.8 L322.2,525.2 L331.0,524.5 L331.5,531.5 L336.0,535.2 L341.0,544.0 L344.8,554.0 L348.5,566.5 L352.2,574.0 L356.0,581.0 L357.2,569.0 L357.2,559.0 L361.0,549.0 L366.0,544.0 L378.5,544.5 L381.0,554.0 L387.2,561.5 L392.2,567.8 L401.0,572.8 L407.2,576.5 L407.2,569.0 L401.0,559.0 L402.2,549.0 L396.0,536.5 L391.0,519.0 L386.0,514.0 L386.0,504.0 L378.5,491.5 L373.5,479.0 L374.9,475.0 L377.9,474.0 L382.7,479.8 L388.6,480.8 L394.5,485.7 L400.3,486.7 L398.4,489.6 L401.3,493.5 L404.2,499.4 L407.1,498.4 L410.1,491.6 L415.9,488.6 L425.7,487.7 L429.6,485.7 L423.8,480.8 L417.9,478.9 L410.1,476.9 L405.2,475.9 L407.1,470.1 L405.2,462.3 L406.2,454.5 L402.3,449.6 L394.5,445.7 L397.4,443.7 L406.2,442.3 L414.0,439.2 L421.0,437.5 L425.3,433.0 L436.4,434.1 L441.7,442.3 L445.2,447.6 L450.1,454.5 L457.0,452.5 L460.9,458.4 L461.8,465.2 L465.7,467.1 L469.6,463.2 L470.6,456.4 L467.7,446.6 L465.4,436.9 L466.7,427.1 L469.6,419.3 L466.7,409.5 L455.0,407.2 L445.2,404.6 L440.4,400.7 L439.4,399.8 L437.9,396.2 L434.2,390.3 L432.0,391.0 L426.2,390.3 L418.8,388.8 L417.4,384.4 L415.9,380.1 L411.5,377.1 L405.7,374.9 L400.5,377.1 L396.9,369.8 L391.0,366.9 L383.7,365.4 L377.8,363.9 L372.0,359.5 L366.1,360.3 L361.7,359.5 L361.0,356.6 L363.2,354.4 L367.6,353.7 L373.4,355.2 L379.3,354.4 L385.2,350.8 L391.0,347.8 L393.9,344.2 L393.2,339.0 L391.0,333.9 L386.6,331.7 L385.2,327.3 L381.5,325.9 L380.8,320.0 L388.5,317.0 L388.5,312.0 L393.5,312.0 L394.8,315.8 L403.5,318.2 L407.9,320.0 L410.1,325.9 L408.6,330.3 L404.2,331.7 L402.0,329.5 L398.3,330.3 L397.6,335.4 L396.6,340.5 L399.1,339.8 L398.3,336.4 L405.7,334.6 L414.4,331.7 L418.1,327.3 L416.6,322.9 L414.4,320.0 L411.0,314.5 L401.0,299.5 L400.8,300.0 L387.1,288.9 L382.2,271.3 L373.4,261.6 L370.5,255.7 L363.7,251.8 L360.7,238.1 L365.6,224.5 L368.6,217.6 L363.7,208.8 L368.6,206.9 L369.5,203.0 L374.4,203.9 L375.4,200.0 L381.2,197.1 L382.2,192.2 L387.1,191.2 L390.0,194.2 L391.0,200.0 L386.1,203.9 L381.2,205.9 L386.1,215.7 L393.9,219.6 L404.7,225.4 L416.4,230.3 L415.4,243.0 L420.3,251.8 L419.3,255.3 L426.2,255.7 L436.9,259.2 L446.7,258.6 L442.8,255.7 L435.9,250.8 L427.1,245.9 L418.4,235.2 L418.0,231.3 L422.3,226.0 L432.0,228.8 L439.8,230.3 L445.7,237.1 L449.6,245.9 L453.5,250.8 L460.4,257.1 L463.3,256.1 L466.6,249.8 L464.3,242.0 L459.4,238.1 L450.6,233.8 L446.7,230.3 L443.8,224.5 L444.7,219.6 L451.6,217.2 L459.4,218.6 L465.2,222.5 L475.0,227.4 L482.8,236.2 L486.7,240.5 L493.6,238.1 L486.7,228.4 L482.8,222.5 L477.0,218.6 L469.1,216.6 L467.2,210.8 L465.2,209.8 L464.3,214.7 L459.4,214.7 L455.5,210.8 L453.5,204.9 L458.4,201.0 L451.6,198.1 L447.7,192.2 L443.8,187.3 L446.7,180.5 L454.5,178.6 L470.1,184.4 L486.7,174.6 L488.7,168.8 L494.5,163.9 L502.3,162.0 L506.2,163.9 L510.2,169.8 L521.9,170.7 L529.7,165.9 L539.5,160.0 L537.0,162.5 L544.5,157.5 L547.0,162.5 L557.0,163.8 L574.5,170.0 L607.0,173.8 L612.0,182.5 L614.5,192.5 L622.0,196.2 L642.0,195.0 L659.5,191.2 L667.0,192.5 L667.0,197.5 L659.5,205.0 L634.5,215.0 L624.5,222.0 L629.5,232.0 L622.0,247.0 L632.0,237.6 L634.6,232.5 L642.2,227.4 L651.0,218.5 L657.4,210.9 L662.0,210.0 L672.0,200.0 L687.0,192.5 L702.0,185.0 L712.0,172.5 L717.0,161.2 L732.0,156.2 L749.5,160.0 L759.5,152.5 L768.0,150.0 L780.5,152.5 L790.5,155.0 L791.8,150.0 L794.2,151.2 L795.5,158.8 L803.0,160.0 L805.5,153.8 L808.0,160.0 L813.0,161.2 L819.2,157.5 L820.5,151.2 L823.0,155.0 L826.2,150.0 L827.5,142.5 L832.0,136.2 L830.5,133.8 L820.5,132.5 L805.5,127.5 L783.0,117.5 L768.0,106.2 L762.0,100.0 L755.8,87.5 L750.8,75.0 L754.5,72.5 L753.2,62.5 L753.2,50.0 L60.0,50.0Z M833.8,136.8 L840.5,135.0 L855.5,137.5 L873.0,142.0 L893.0,144.5 L908.0,143.8 L914.2,137.5 L918.0,137.5 L928.0,141.2 L948.0,141.2 L948.0,589.0 L930.5,589.0 L923.0,594.0 L913.0,587.8 L905.5,590.2 L893.0,596.5 L880.5,601.5 L870.5,602.8 L858.0,597.8 L848.0,594.0 L833.0,580.2 L831.8,569.0 L825.5,566.5 L831.8,559.0 L832.4,558.9 L827.5,554.0 L819.7,549.1 L815.8,555.0 L811.9,560.9 L808.0,555.0 L798.2,551.1 L797.2,547.2 L794.3,542.3 L790.4,543.3 L786.5,542.3 L783.6,538.4 L780.6,544.3 L775.7,543.3 L772.8,539.4 L769.9,542.3 L770.9,549.1 L767.0,553.0 L759.1,562.8 L750.4,565.7 L749.4,562.8 L757.2,561.8 L759.1,557.9 L750.4,555.0 L762.1,549.1 L757.2,548.2 L743.5,549.5 L733.8,550.1 L727.9,556.0 L720.1,557.0 L710.3,556.0 L706.4,553.0 L712.3,548.8 L724.0,546.8 L726.9,543.9 L737.7,542.9 L749.4,543.7 L757.2,544.8 L753.3,538.4 L755.2,533.5 L764.0,532.5 L767.0,527.7 L774.8,522.8 L757.2,523.8 L741.6,524.7 L735.7,526.7 L718.1,527.3 L710.3,523.8 L704.5,526.7 L699.6,529.6 L696.6,521.8 L698.6,515.9 L702.5,513.0 L708.4,514.0 L712.3,517.9 L717.1,515.0 L718.1,512.0 L723.0,510.1 L724.0,502.3 L715.2,501.3 L714.2,497.4 L709.3,495.4 L710.3,490.5 L707.4,489.6 L704.5,494.5 L695.7,493.5 L696.6,484.7 L693.7,483.7 L692.7,477.9 L695.7,475.9 L695.7,472.0 L688.8,469.1 L682.0,466.1 L692.7,462.2 L698.6,457.3 L697.6,449.5 L700.5,443.7 L697.6,437.8 L688.8,434.9 L681.0,430.0 L678.2,429.5 L670.8,432.0 L668.2,424.5 L662.0,418.2 L655.8,419.5 L650.8,425.8 L644.5,422.0 L634.5,417.0 L627.0,410.8 L628.2,402.0 L632.0,407.0 L639.5,405.8 L644.5,397.0 L639.5,392.0 L634.5,384.5 L635.8,375.8 L642.0,374.5 L648.2,382.0 L654.5,392.0 L653.2,397.0 L657.0,407.0 L659.5,397.0 L664.5,404.5 L674.5,400.8 L687.0,399.5 L692.0,394.5 L687.0,393.2 L677.0,395.8 L667.0,384.5 L662.0,374.5 L664.5,368.2 L674.5,367.0 L678.2,359.5 L684.5,355.8 L684.5,350.8 L677.0,352.0 L668.2,350.8 L665.8,344.5 L670.8,337.0 L662.0,327.0 L655.8,319.5 L659.5,314.5 L667.0,304.5 L674.5,299.5 L675.8,294.5 L672.0,290.8 L662.0,292.0 L642.0,297.0 L619.5,302.0 L613.2,300.8 L620.8,282.0 L618.2,267.0 L620.6,251.5 L634.6,245.9 L637.1,236.3 L643.5,230.7 L656.1,222.3 L661.2,214.7 L682.0,215.5 L687.0,211.2 L697.0,207.5 L704.5,215.0 L712.0,220.0 L724.5,221.2 L737.0,217.5 L740.8,213.8 L729.5,205.0 L737.0,202.5 L752.0,206.2 L754.5,208.8 L744.5,215.5 L768.0,215.5 L785.5,215.0 L795.5,217.5 L808.0,215.0 L818.0,217.5 L828.0,217.5 L834.2,212.5 L828.0,207.5 L814.2,206.2 L809.2,201.2 L821.8,191.2 L848.0,187.5 L856.8,186.2 L860.5,182.5 L861.8,185.0 L868.0,186.2 L890.5,184.5 L890.5,181.2 L878.0,181.2 L863.0,177.5 L850.5,180.0 L848.0,175.0 L843.0,172.5 L833.0,165.0 L824.2,157.5 L828.0,150.0 L829.5,143.0Z M152.5,272.0 L160.0,270.8 L170.0,269.5 L173.8,273.2 L167.5,278.2 L168.8,283.2 L173.8,287.0 L175.0,299.5 L183.8,304.5 L186.2,309.5 L182.5,311.5 L172.5,305.8 L163.8,297.0 L158.8,285.8 L153.8,278.2Z M218.6,381.3 L219.3,372.5 L221.5,365.2 L226.6,359.3 L231.0,355.2 L229.8,363.7 L229.3,373.9 L228.4,379.8 L224.4,380.5 L221.5,382.7Z M223.4,396.6 L225.9,394.4 L229.5,398.8 L232.5,406.2 L231.7,409.8 L228.4,408.4 L225.9,403.2Z M209.0,403.2 L204.6,412.0 L203.9,417.9 L207.6,422.3 L214.9,425.9 L219.3,428.1 L221.5,425.9 L228.1,427.4 L234.7,431.1 L236.9,425.9 L232.5,419.4 L226.6,413.5 L222.2,409.1 L220.0,403.2 L217.8,405.4 L212.0,406.2Z M223.8,446.5 L227.5,444.0 L233.8,451.5 L242.5,454.0 L241.2,459.0 L248.8,461.5 L246.2,464.0 L240.0,461.5 L238.8,467.8 L231.2,461.5 L226.2,454.0Z M502.3,189.3 L505.3,181.5 L512.1,176.6 L518.9,179.5 L520.9,185.4 L519.9,193.2 L511.1,198.1 L506.2,194.2Z M570.8,206.2 L577.0,203.8 L584.5,206.2 L586.5,211.2 L578.2,214.5 L572.0,211.2Z M718.2,192.5 L725.8,188.8 L733.2,192.0 L724.5,197.5 L719.5,196.2Z M539.5,253.2 L554.5,252.0 L557.0,255.8 L568.2,248.2 L568.2,254.5 L562.0,263.2 L563.2,270.8 L559.5,272.0 L554.5,264.5 L552.0,269.5 L547.0,269.5 L545.8,265.8 L540.8,267.0 L542.0,259.5Z M584.5,238.2 L592.0,232.0 L605.8,228.2 L608.2,237.0 L597.0,242.0 L588.2,242.0Z M606.5,267.0 L613.2,266.5 L614.0,270.8Z M534.5,297.0 L538.2,292.8 L540.8,295.2 L536.5,301.5Z M598.2,323.2 L605.8,318.2 L620.8,313.2 L622.0,309.5 L634.5,309.5 L634.5,315.8 L642.0,324.5 L648.2,334.5 L652.0,343.2 L647.0,344.5 L638.2,347.0 L629.5,345.8 L619.5,342.0 L614.5,335.8 L605.8,332.0 L598.2,327.0Z M597.0,384.5 L607.0,380.8 L614.5,382.0 L619.5,387.0 L618.2,397.0 L619.5,407.0 L615.8,414.5 L609.5,422.0 L599.5,414.5 L605.8,407.0 L605.8,397.0 L600.8,392.0Z M575.8,382.0 L580.0,380.8 L581.5,385.8 L577.5,387.0Z M422.2,328.2 L428.5,325.0 L430.5,329.5 L426.0,332.5Z M436.0,325.8 L442.2,330.8 L449.8,333.2 L446.0,337.5 L439.8,335.8Z M454.8,329.5 L462.2,318.2 L463.5,322.0 L457.2,331.5Z M497.2,349.5 L501.0,347.0 L512.0,358.2 L513.5,362.0 L508.5,367.0 L503.5,364.5 L502.2,358.2 L497.2,355.8Z M380.8,359.5 L388.1,358.4 L393.9,356.6 L399.8,358.8 L405.7,359.5 L411.5,363.9 L418.8,370.5 L424.7,376.4 L429.8,381.5 L436.4,384.4 L438.6,389.6 L438.6,396.2 L440.1,399.8 L452.5,400.6 L467.2,399.8 L468.6,405.0 L473.0,407.9 L474.5,413.7 L480.4,419.3 L486.2,429.0 L492.1,437.9 L497.0,435.9 L501.9,439.8 L506.8,433.0 L505.8,423.2 L500.0,421.1 L496.5,421.8 L489.2,419.6 L484.8,415.2 L482.6,407.9 L479.6,399.1 L478.9,391.8 L481.1,388.1 L474.5,380.1 L476.0,376.4 L471.6,373.9 L464.3,374.2 L456.9,374.9 L449.6,371.3 L443.7,366.1 L439.4,366.9 L433.5,362.5 L426.9,355.9 L424.7,349.3 L421.8,347.1 L417.4,341.2 L408.6,342.7 L398.3,347.1 L393.9,351.5 L388.1,355.9Z M423.4,441.6 L426.5,437.3 L430.6,435.7 L435.1,437.3 L432.5,442.1 L427.7,446.6 L424.1,445.7Z M423.8,458.4 L433.5,457.4 L431.6,463.2 L427.7,466.2Z M415.9,469.7 L422.8,469.1 L419.8,475.9Z M419.8,499.4 L427.7,495.5 L434.5,493.5 L431.6,496.4 L423.8,499.0Z M485.3,467.1 L490.2,465.2 L494.1,467.1 L492.1,474.0 L486.2,478.9 L484.3,474.0Z M492.1,489.6 L496.0,483.8 L498.9,489.6 L496.0,496.4 L492.1,498.4Z M496.0,511.1 L499.9,508.2 L502.9,511.1 L501.9,516.0 L497.0,516.0Z M502.2,542.8 L506.0,539.0 L508.5,542.8 L504.8,547.0Z M488.5,551.5 L496.0,547.8 L503.5,550.2 L502.2,556.5 L493.5,557.8 L488.5,556.5Z M384.8,587.8 L389.8,582.8 L396.0,587.8 L401.0,594.0 L397.2,602.8 L389.8,602.8 L386.0,596.5Z M514.7,440.0 L518.9,437.5 L523.9,440.0 L528.1,445.1 L533.2,448.4 L534.9,452.6 L536.6,456.8 L534.9,462.7 L532.3,461.9 L527.3,456.0 L522.2,450.1 L517.2,446.7 L514.1,442.5Z M511.3,523.4 L514.7,524.2 L519.7,531.8 L517.2,535.2 L514.1,532.7Z M535.8,466.5 L544.5,467.8 L554.5,471.5 L553.2,477.8 L544.5,475.2 L537.0,469.0Z M528.2,481.5 L532.0,481.5 L534.5,489.0 L528.2,492.8 L527.0,487.8Z M559.5,482.8 L565.8,481.5 L570.8,485.2 L562.0,489.8Z M544.5,519.0 L552.0,514.0 L557.0,514.0 L555.8,524.0 L549.5,529.0 L545.8,526.5Z M538.2,527.8 L543.2,521.5 L542.0,530.2Z M562.0,517.8 L575.8,508.5 L579.5,511.5 L579.5,524.0 L575.8,530.2 L568.2,533.5 L564.5,526.5Z M554.5,547.8 L558.2,545.2 L565.8,552.8 L563.2,558.5 L557.0,554.0Z M540.8,557.8 L548.2,552.0 L544.5,558.5Z M562.0,575.2 L568.2,573.5 L572.0,580.2 L568.2,586.0 L565.8,582.8 L567.0,577.8 L563.2,580.2Z M589.5,582.8 L593.2,579.8 L598.2,584.0 L592.0,585.2Z M590.8,544.0 L598.2,540.2 L605.8,533.5 L612.0,534.0 L605.8,540.2 L597.0,546.5 L592.0,547.0Z M627.0,564.0 L633.2,562.8 L637.0,558.5 L642.0,564.0 L635.8,565.2 L634.5,570.2 L629.5,570.2Z M606.5,479.0 L614.5,470.2 L624.5,468.5 L634.5,464.5 L632.0,470.2 L622.0,475.2 L612.0,480.2Z M649.8,459.3 L653.7,455.4 L661.5,453.0 L669.3,453.8 L677.1,456.4 L678.1,455.0 L683.9,457.3 L684.9,461.2 L679.1,463.6 L671.2,465.2 L669.3,468.1 L664.4,468.1 L659.5,464.2 L651.7,465.2Z M642.0,472.0 L646.8,468.1 L647.8,473.0 L643.9,477.9Z M647.0,494.0 L649.5,492.8 L649.5,500.2 L647.0,500.2Z M663.4,509.1 L668.3,508.1 L672.2,515.9 L667.3,516.9Z M672.2,520.8 L676.1,521.8 L682.0,525.7 L683.0,530.6 L676.1,532.5 L674.8,526.7Z M674.2,548.2 L680.0,546.2 L686.9,539.4 L698.6,534.5 L704.5,536.4 L704.5,539.4 L694.7,543.3 L684.9,547.2 L679.1,550.1 L678.1,555.0 L675.2,553.0Z M689.8,561.8 L693.7,560.9 L695.7,564.8 L691.8,566.7Z M700.8,574.0 L705.8,573.5 L712.0,580.2 L708.2,581.5Z M735.7,562.8 L741.6,557.9 L743.5,566.7 L737.7,566.7Z M729.5,601.5 L738.2,592.8 L749.5,586.5 L762.0,580.2 L768.0,575.2 L769.5,580.2 L768.0,589.0 L759.5,604.0 L749.5,614.0 L739.5,624.0 L733.2,626.0 L732.0,616.5Z M684.5,651.5 L690.8,639.0 L695.8,630.2 L697.0,634.0 L693.2,651.5 L697.0,659.0 L694.5,669.0 L690.0,670.2 L688.2,666.0 L688.2,659.0Z M669.3,672.3 L676.9,667.3 L679.4,668.5 L673.1,673.6Z M436.4,649.2 L443.4,644.5 L447.0,643.4 L449.3,656.2 L459.8,657.4 L469.2,656.2 L470.4,652.7 L477.4,652.0 L479.8,662.8 L484.4,671.5 L505.5,670.3 L513.7,666.8 L530.1,668.0 L534.8,666.3 L538.4,668.0 L539.5,672.7 L565.3,674.5 L570.0,677.3 L591.1,674.5 L588.7,678.5 L587.6,689.1 L593.4,693.7 L598.1,691.4 L607.5,686.7 L616.9,684.4 L626.2,680.9 L629.7,676.2 L628.1,693.7 L626.2,700.8 L616.9,703.1 L607.5,699.6 L584.0,700.8 L560.6,705.5 L541.9,709.0 L518.4,709.7 L517.3,696.1 L504.4,693.7 L490.3,691.4 L473.9,689.1 L457.5,685.5 L436.4,683.2 L431.7,679.7 L431.7,670.3 L435.2,660.9Z" fill="#BEBEBE" fill-rule="evenodd"/>
<path d="M617.0,334.5 L622.0,327.0 L628.2,327.0 L627.0,332.0Z M640.8,335.8 L644.5,334.5 L647.0,339.5 L643.2,339.5Z" fill="#fff" />
<path d="M229.5,344.6 L233.9,343.9 L241.3,343.5 L241.6,339.5 L248.6,341.0 L254.4,341.7 L257.4,340.3 L261.8,343.9 L261.8,352.0 L258.8,354.2 L255.9,356.4 L253.0,353.4 L249.3,350.5 L241.3,350.5 L236.9,352.0 L232.5,349.8 L229.5,347.6Z M291.0,479.0 L299.8,487.8 L303.5,491.5 L302.2,496.5 L297.2,506.5 L293.5,504.0 L296.0,491.5Z M301.0,544.0 L309.8,544.0 L313.5,551.5 L317.2,540.2 L318.0,534.0 L321.5,531.0 L314.8,542.8 L307.2,544.0 L303.5,539.0Z M593.0,680.9 L595.3,679.2 L595.8,687.9 L593.0,689.1Z M250.1,385.7 L254.4,388.6 L258.8,394.4 L261.8,397.4 L258.8,403.2 L256.6,398.8 L253.0,393.0Z" fill="#FD7E36" />
<path d="M431.7,670.3 L435.2,660.9 L436.4,659.8 L437.6,665.6 L442.3,668.0 L441.1,672.7 L436.4,679.7 L443.4,679.7 L450.5,683.7 L457.5,685.5 L436.4,683.2 L431.7,679.7Z M218.6,381.3 L221.5,380.5 L224.4,380.5 L221.5,388.6 L219.3,391.5 L217.8,388.6Z M209.0,403.2 L204.6,412.0 L203.9,417.9 L207.6,422.3 L208.3,417.9 L208.7,412.8 L212.0,411.3 L215.6,410.9 L217.8,405.4 L212.0,406.2Z M296.0,506.5 L298.0,516.5 L302.2,526.5 L303.5,539.0 L301.0,544.0 L299.8,529.0 L296.0,516.5 L293.5,504.0Z" fill="#FC592C" />
<path d="M430.3,670.3 L432.2,670.3 L431.7,679.7 L429.4,680.9Z" fill="#DE1A20" />
<path d="" fill="none" stroke="#fff" stroke-width="1.6" stroke-linejoin="round"/>
<path d="M117.5,50.0 L117.5,62.5 L120.0,67.5 L132.5,72.5 L147.5,78.8 L150.0,82.5 L148.8,98.8 L145.0,102.5 L140.0,102.5 L143.8,107.5 L143.8,111.2 L137.5,120.0 L140.0,125.0 L143.8,130.0 L143.8,136.2 L138.8,147.5 L140.0,156.2 L143.8,160.0 L143.8,166.2 L137.5,167.5 L135.0,175.0 L130.0,186.2 L131.2,187.8 L134.2,198.6 L140.0,198.0 L140.4,202.5 L138.1,203.4 L142.0,209.3 L142.0,216.1 L139.1,220.0 L135.2,219.1 L136.1,223.9 L139.1,228.8 L150.8,236.6 L160.0,244.5 L170.0,252.0 L172.5,259.5 L178.8,263.2 L178.8,279.5 L195.0,283.2 L190.0,287.0 L192.5,295.8 L197.5,297.0 L197.5,302.0 L193.8,304.5 L197.5,312.0 L202.5,318.2 L212.5,323.2 L220.0,332.0 L230.0,342.0 L229.5,344.6 L232.5,343.9 L235.4,339.5 L241.3,338.8 L248.6,341.0 L254.4,341.7 L257.4,340.3 L261.8,343.9 L261.8,352.0 L262.5,357.1 L258.8,354.2 L255.9,356.4 L253.0,353.4 L249.3,350.5 L241.3,350.5 L236.9,352.0 L232.5,350.5 L231.0,354.9 L231.0,357.1 L230.3,363.7 L233.9,368.1 L239.8,363.7 L242.0,372.5 L248.6,375.4 L250.8,382.7 L254.4,388.6 L256.6,387.1 L257.4,393.0 L261.8,397.4 L258.8,403.2 L263.2,404.7 L269.1,403.2 L274.2,398.8 L272.0,391.5 L274.2,390.8 L276.4,395.9 L277.9,401.8 L283.7,404.7 L292.5,403.2 L304.3,406.2 L307.2,402.5 L317.4,399.6 L324.8,401.8 L329.2,403.2 L330.0,403.7 L335.9,404.6 L341.7,403.7 L349.5,400.7 L351.5,396.8 L355.4,399.8 L361.2,409.5 L366.1,403.7 L370.0,402.7 L372.0,407.6 L376.9,412.5 L384.7,416.4 L390.5,418.3 L396.4,420.3 L402.3,419.3 L408.1,421.2 L407.1,426.1 L402.3,428.1 L396.4,430.0 L388.6,429.1 L384.7,432.0 L390.5,437.9 L392.5,440.8 L386.6,441.8 L380.8,438.8 L374.9,432.0 L367.1,426.1 L357.3,423.2 L347.6,422.2 L339.8,416.4 L330.0,412.5 L330.6,413.5 L321.8,408.4 L316.0,406.9 L307.2,412.0 L305.7,416.4 L301.3,421.5 L292.5,423.7 L285.2,420.8 L277.9,416.4 L275.7,420.8 L275.7,426.7 L272.0,435.5 L266.2,441.3 L258.8,442.8 L257.4,448.6 L263.2,453.0 L269.1,457.4 L272.0,459.9 L261.0,451.5 L273.5,466.5 L283.5,472.8 L291.0,479.0 L296.0,491.5 L293.5,504.0 L296.0,516.5 L299.8,529.0 L301.0,544.0 L309.8,544.0 L313.5,551.5 L317.2,540.2 L317.2,527.8 L322.2,525.2 L331.0,524.5 L331.5,531.5 L336.0,535.2 L341.0,544.0 L344.8,554.0 L348.5,566.5 L352.2,574.0 L356.0,581.0 L357.2,569.0 L357.2,559.0 L361.0,549.0 L366.0,544.0 L378.5,544.5 L381.0,554.0 L387.2,561.5 L392.2,567.8 L401.0,572.8 L407.2,576.5 L407.2,569.0 L401.0,559.0 L402.2,549.0 L396.0,536.5 L391.0,519.0 L386.0,514.0 L386.0,504.0 L378.5,491.5 L373.5,479.0 L374.9,475.0 L377.9,474.0 L382.7,479.8 L388.6,480.8 L394.5,485.7 L400.3,486.7 L398.4,489.6 L401.3,493.5 L404.2,499.4 L407.1,498.4 L410.1,491.6 L415.9,488.6 L425.7,487.7 L429.6,485.7 L423.8,480.8 L417.9,478.9 L410.1,476.9 L405.2,475.9 L407.1,470.1 L405.2,462.3 L406.2,454.5 L402.3,449.6 L394.5,445.7 L397.4,443.7 L406.2,442.3 L414.0,439.2 L421.0,437.5 L425.3,433.0 L436.4,434.1 L441.7,442.3 L445.2,447.6 L450.1,454.5 L457.0,452.5 L460.9,458.4 L461.8,465.2 L465.7,467.1 L469.6,463.2 L470.6,456.4 L467.7,446.6 L465.4,436.9 L466.7,427.1 L469.6,419.3 L466.7,409.5 L455.0,407.2 L445.2,404.6 L440.4,400.7 L439.4,399.8 L437.9,396.2 L434.2,390.3 L432.0,391.0 L426.2,390.3 L418.8,388.8 L417.4,384.4 L415.9,380.1 L411.5,377.1 L405.7,374.9 L400.5,377.1 L396.9,369.8 L391.0,366.9 L383.7,365.4 L377.8,363.9 L372.0,359.5 L366.1,360.3 L361.7,359.5 L361.0,356.6 L363.2,354.4 L367.6,353.7 L373.4,355.2 L379.3,354.4 L385.2,350.8 L391.0,347.8 L393.9,344.2 L393.2,339.0 L391.0,333.9 L386.6,331.7 L385.2,327.3 L381.5,325.9 L380.8,320.0 L388.5,317.0 L388.5,312.0 L393.5,312.0 L394.8,315.8 L403.5,318.2 L407.9,320.0 L410.1,325.9 L408.6,330.3 L404.2,331.7 L402.0,329.5 L398.3,330.3 L397.6,335.4 L396.6,340.5 L399.1,339.8 L398.3,336.4 L405.7,334.6 L414.4,331.7 L418.1,327.3 L416.6,322.9 L414.4,320.0 L411.0,314.5 L401.0,299.5 L400.8,300.0 L387.1,288.9 L382.2,271.3 L373.4,261.6 L370.5,255.7 L363.7,251.8 L360.7,238.1 L365.6,224.5 L368.6,217.6 L363.7,208.8 L368.6,206.9 L369.5,203.0 L374.4,203.9 L375.4,200.0 L381.2,197.1 L382.2,192.2 L387.1,191.2 L390.0,194.2 L391.0,200.0 L386.1,203.9 L381.2,205.9 L386.1,215.7 L393.9,219.6 L404.7,225.4 L416.4,230.3 L415.4,243.0 L420.3,251.8 L419.3,255.3 L426.2,255.7 L436.9,259.2 L446.7,258.6 L442.8,255.7 L435.9,250.8 L427.1,245.9 L418.4,235.2 L418.0,231.3 L422.3,226.0 L432.0,228.8 L439.8,230.3 L445.7,237.1 L449.6,245.9 L453.5,250.8 L460.4,257.1 L463.3,256.1 L466.6,249.8 L464.3,242.0 L459.4,238.1 L450.6,233.8 L446.7,230.3 L443.8,224.5 L444.7,219.6 L451.6,217.2 L459.4,218.6 L465.2,222.5 L475.0,227.4 L482.8,236.2 L486.7,240.5 L493.6,238.1 L486.7,228.4 L482.8,222.5 L477.0,218.6 L469.1,216.6 L467.2,210.8 L465.2,209.8 L464.3,214.7 L459.4,214.7 L455.5,210.8 L453.5,204.9 L458.4,201.0 L451.6,198.1 L447.7,192.2 L443.8,187.3 L446.7,180.5 L454.5,178.6 L470.1,184.4 L486.7,174.6 L488.7,168.8 L494.5,163.9 L502.3,162.0 L506.2,163.9 L510.2,169.8 L521.9,170.7 L529.7,165.9 L539.5,160.0 L537.0,162.5 L544.5,157.5 L547.0,162.5 L557.0,163.8 L574.5,170.0 L607.0,173.8 L612.0,182.5 L614.5,192.5 L622.0,196.2 L642.0,195.0 L659.5,191.2 L667.0,192.5 L667.0,197.5 L659.5,205.0 L634.5,215.0 L624.5,222.0 L629.5,232.0 L622.0,247.0 L632.0,237.6 L634.6,232.5 L642.2,227.4 L651.0,218.5 L657.4,210.9 L662.0,210.0 L672.0,200.0 L687.0,192.5 L702.0,185.0 L712.0,172.5 L717.0,161.2 L732.0,156.2 L749.5,160.0 L759.5,152.5 L768.0,150.0 L780.5,152.5 L790.5,155.0 L791.8,150.0 L794.2,151.2 L795.5,158.8 L803.0,160.0 L805.5,153.8 L808.0,160.0 L813.0,161.2 L819.2,157.5 L820.5,151.2 L823.0,155.0 L826.2,150.0 L827.5,142.5 L832.0,136.2 L830.5,133.8 L820.5,132.5 L805.5,127.5 L783.0,117.5 L768.0,106.2 L762.0,100.0 L755.8,87.5 L750.8,75.0 L754.5,72.5 L753.2,62.5 L753.2,50.0 L60.0,50.0Z M833.8,136.8 L840.5,135.0 L855.5,137.5 L873.0,142.0 L893.0,144.5 L908.0,143.8 L914.2,137.5 L918.0,137.5 L928.0,141.2 L948.0,141.2 L948.0,589.0 L930.5,589.0 L923.0,594.0 L913.0,587.8 L905.5,590.2 L893.0,596.5 L880.5,601.5 L870.5,602.8 L858.0,597.8 L848.0,594.0 L833.0,580.2 L831.8,569.0 L825.5,566.5 L831.8,559.0 L832.4,558.9 L827.5,554.0 L819.7,549.1 L815.8,555.0 L811.9,560.9 L808.0,555.0 L798.2,551.1 L797.2,547.2 L794.3,542.3 L790.4,543.3 L786.5,542.3 L783.6,538.4 L780.6,544.3 L775.7,543.3 L772.8,539.4 L769.9,542.3 L770.9,549.1 L767.0,553.0 L759.1,562.8 L750.4,565.7 L749.4,562.8 L757.2,561.8 L759.1,557.9 L750.4,555.0 L762.1,549.1 L757.2,548.2 L743.5,549.5 L733.8,550.1 L727.9,556.0 L720.1,557.0 L710.3,556.0 L706.4,553.0 L712.3,548.8 L724.0,546.8 L726.9,543.9 L737.7,542.9 L749.4,543.7 L757.2,544.8 L753.3,538.4 L755.2,533.5 L764.0,532.5 L767.0,527.7 L774.8,522.8 L757.2,523.8 L741.6,524.7 L735.7,526.7 L718.1,527.3 L710.3,523.8 L704.5,526.7 L699.6,529.6 L696.6,521.8 L698.6,515.9 L702.5,513.0 L708.4,514.0 L712.3,517.9 L717.1,515.0 L718.1,512.0 L723.0,510.1 L724.0,502.3 L715.2,501.3 L714.2,497.4 L709.3,495.4 L710.3,490.5 L707.4,489.6 L704.5,494.5 L695.7,493.5 L696.6,484.7 L693.7,483.7 L692.7,477.9 L695.7,475.9 L695.7,472.0 L688.8,469.1 L682.0,466.1 L692.7,462.2 L698.6,457.3 L697.6,449.5 L700.5,443.7 L697.6,437.8 L688.8,434.9 L681.0,430.0 L678.2,429.5 L670.8,432.0 L668.2,424.5 L662.0,418.2 L655.8,419.5 L650.8,425.8 L644.5,422.0 L634.5,417.0 L627.0,410.8 L628.2,402.0 L632.0,407.0 L639.5,405.8 L644.5,397.0 L639.5,392.0 L634.5,384.5 L635.8,375.8 L642.0,374.5 L648.2,382.0 L654.5,392.0 L653.2,397.0 L657.0,407.0 L659.5,397.0 L664.5,404.5 L674.5,400.8 L687.0,399.5 L692.0,394.5 L687.0,393.2 L677.0,395.8 L667.0,384.5 L662.0,374.5 L664.5,368.2 L674.5,367.0 L678.2,359.5 L684.5,355.8 L684.5,350.8 L677.0,352.0 L668.2,350.8 L665.8,344.5 L670.8,337.0 L662.0,327.0 L655.8,319.5 L659.5,314.5 L667.0,304.5 L674.5,299.5 L675.8,294.5 L672.0,290.8 L662.0,292.0 L642.0,297.0 L619.5,302.0 L613.2,300.8 L620.8,282.0 L618.2,267.0 L620.6,251.5 L634.6,245.9 L637.1,236.3 L643.5,230.7 L656.1,222.3 L661.2,214.7 L682.0,215.5 L687.0,211.2 L697.0,207.5 L704.5,215.0 L712.0,220.0 L724.5,221.2 L737.0,217.5 L740.8,213.8 L729.5,205.0 L737.0,202.5 L752.0,206.2 L754.5,208.8 L744.5,215.5 L768.0,215.5 L785.5,215.0 L795.5,217.5 L808.0,215.0 L818.0,217.5 L828.0,217.5 L834.2,212.5 L828.0,207.5 L814.2,206.2 L809.2,201.2 L821.8,191.2 L848.0,187.5 L856.8,186.2 L860.5,182.5 L861.8,185.0 L868.0,186.2 L890.5,184.5 L890.5,181.2 L878.0,181.2 L863.0,177.5 L850.5,180.0 L848.0,175.0 L843.0,172.5 L833.0,165.0 L824.2,157.5 L828.0,150.0 L829.5,143.0Z M152.5,272.0 L160.0,270.8 L170.0,269.5 L173.8,273.2 L167.5,278.2 L168.8,283.2 L173.8,287.0 L175.0,299.5 L183.8,304.5 L186.2,309.5 L182.5,311.5 L172.5,305.8 L163.8,297.0 L158.8,285.8 L153.8,278.2Z M218.6,381.3 L219.3,372.5 L221.5,365.2 L226.6,359.3 L231.0,355.2 L229.8,363.7 L229.3,373.9 L228.4,379.8 L224.4,380.5 L221.5,382.7Z M223.4,396.6 L225.9,394.4 L229.5,398.8 L232.5,406.2 L231.7,409.8 L228.4,408.4 L225.9,403.2Z M209.0,403.2 L204.6,412.0 L203.9,417.9 L207.6,422.3 L214.9,425.9 L219.3,428.1 L221.5,425.9 L228.1,427.4 L234.7,431.1 L236.9,425.9 L232.5,419.4 L226.6,413.5 L222.2,409.1 L220.0,403.2 L217.8,405.4 L212.0,406.2Z M223.8,446.5 L227.5,444.0 L233.8,451.5 L242.5,454.0 L241.2,459.0 L248.8,461.5 L246.2,464.0 L240.0,461.5 L238.8,467.8 L231.2,461.5 L226.2,454.0Z M502.3,189.3 L505.3,181.5 L512.1,176.6 L518.9,179.5 L520.9,185.4 L519.9,193.2 L511.1,198.1 L506.2,194.2Z M570.8,206.2 L577.0,203.8 L584.5,206.2 L586.5,211.2 L578.2,214.5 L572.0,211.2Z M718.2,192.5 L725.8,188.8 L733.2,192.0 L724.5,197.5 L719.5,196.2Z M539.5,253.2 L554.5,252.0 L557.0,255.8 L568.2,248.2 L568.2,254.5 L562.0,263.2 L563.2,270.8 L559.5,272.0 L554.5,264.5 L552.0,269.5 L547.0,269.5 L545.8,265.8 L540.8,267.0 L542.0,259.5Z M584.5,238.2 L592.0,232.0 L605.8,228.2 L608.2,237.0 L597.0,242.0 L588.2,242.0Z M606.5,267.0 L613.2,266.5 L614.0,270.8Z M534.5,297.0 L538.2,292.8 L540.8,295.2 L536.5,301.5Z M598.2,323.2 L605.8,318.2 L620.8,313.2 L622.0,309.5 L634.5,309.5 L634.5,315.8 L642.0,324.5 L648.2,334.5 L652.0,343.2 L647.0,344.5 L638.2,347.0 L629.5,345.8 L619.5,342.0 L614.5,335.8 L605.8,332.0 L598.2,327.0Z M597.0,384.5 L607.0,380.8 L614.5,382.0 L619.5,387.0 L618.2,397.0 L619.5,407.0 L615.8,414.5 L609.5,422.0 L599.5,414.5 L605.8,407.0 L605.8,397.0 L600.8,392.0Z M575.8,382.0 L580.0,380.8 L581.5,385.8 L577.5,387.0Z M422.2,328.2 L428.5,325.0 L430.5,329.5 L426.0,332.5Z M436.0,325.8 L442.2,330.8 L449.8,333.2 L446.0,337.5 L439.8,335.8Z M454.8,329.5 L462.2,318.2 L463.5,322.0 L457.2,331.5Z M497.2,349.5 L501.0,347.0 L512.0,358.2 L513.5,362.0 L508.5,367.0 L503.5,364.5 L502.2,358.2 L497.2,355.8Z M380.8,359.5 L388.1,358.4 L393.9,356.6 L399.8,358.8 L405.7,359.5 L411.5,363.9 L418.8,370.5 L424.7,376.4 L429.8,381.5 L436.4,384.4 L438.6,389.6 L438.6,396.2 L440.1,399.8 L452.5,400.6 L467.2,399.8 L468.6,405.0 L473.0,407.9 L474.5,413.7 L480.4,419.3 L486.2,429.0 L492.1,437.9 L497.0,435.9 L501.9,439.8 L506.8,433.0 L505.8,423.2 L500.0,421.1 L496.5,421.8 L489.2,419.6 L484.8,415.2 L482.6,407.9 L479.6,399.1 L478.9,391.8 L481.1,388.1 L474.5,380.1 L476.0,376.4 L471.6,373.9 L464.3,374.2 L456.9,374.9 L449.6,371.3 L443.7,366.1 L439.4,366.9 L433.5,362.5 L426.9,355.9 L424.7,349.3 L421.8,347.1 L417.4,341.2 L408.6,342.7 L398.3,347.1 L393.9,351.5 L388.1,355.9Z M423.4,441.6 L426.5,437.3 L430.6,435.7 L435.1,437.3 L432.5,442.1 L427.7,446.6 L424.1,445.7Z M423.8,458.4 L433.5,457.4 L431.6,463.2 L427.7,466.2Z M415.9,469.7 L422.8,469.1 L419.8,475.9Z M419.8,499.4 L427.7,495.5 L434.5,493.5 L431.6,496.4 L423.8,499.0Z M485.3,467.1 L490.2,465.2 L494.1,467.1 L492.1,474.0 L486.2,478.9 L484.3,474.0Z M492.1,489.6 L496.0,483.8 L498.9,489.6 L496.0,496.4 L492.1,498.4Z M496.0,511.1 L499.9,508.2 L502.9,511.1 L501.9,516.0 L497.0,516.0Z M502.2,542.8 L506.0,539.0 L508.5,542.8 L504.8,547.0Z M488.5,551.5 L496.0,547.8 L503.5,550.2 L502.2,556.5 L493.5,557.8 L488.5,556.5Z M384.8,587.8 L389.8,582.8 L396.0,587.8 L401.0,594.0 L397.2,602.8 L389.8,602.8 L386.0,596.5Z M514.7,440.0 L518.9,437.5 L523.9,440.0 L528.1,445.1 L533.2,448.4 L534.9,452.6 L536.6,456.8 L534.9,462.7 L532.3,461.9 L527.3,456.0 L522.2,450.1 L517.2,446.7 L514.1,442.5Z M511.3,523.4 L514.7,524.2 L519.7,531.8 L517.2,535.2 L514.1,532.7Z M535.8,466.5 L544.5,467.8 L554.5,471.5 L553.2,477.8 L544.5,475.2 L537.0,469.0Z M528.2,481.5 L532.0,481.5 L534.5,489.0 L528.2,492.8 L527.0,487.8Z M559.5,482.8 L565.8,481.5 L570.8,485.2 L562.0,489.8Z M544.5,519.0 L552.0,514.0 L557.0,514.0 L555.8,524.0 L549.5,529.0 L545.8,526.5Z M538.2,527.8 L543.2,521.5 L542.0,530.2Z M562.0,517.8 L575.8,508.5 L579.5,511.5 L579.5,524.0 L575.8,530.2 L568.2,533.5 L564.5,526.5Z M554.5,547.8 L558.2,545.2 L565.8,552.8 L563.2,558.5 L557.0,554.0Z M540.8,557.8 L548.2,552.0 L544.5,558.5Z M562.0,575.2 L568.2,573.5 L572.0,580.2 L568.2,586.0 L565.8,582.8 L567.0,577.8 L563.2,580.2Z M589.5,582.8 L593.2,579.8 L598.2,584.0 L592.0,585.2Z M590.8,544.0 L598.2,540.2 L605.8,533.5 L612.0,534.0 L605.8,540.2 L597.0,546.5 L592.0,547.0Z M627.0,564.0 L633.2,562.8 L637.0,558.5 L642.0,564.0 L635.8,565.2 L634.5,570.2 L629.5,570.2Z M606.5,479.0 L614.5,470.2 L624.5,468.5 L634.5,464.5 L632.0,470.2 L622.0,475.2 L612.0,480.2Z M649.8,459.3 L653.7,455.4 L661.5,453.0 L669.3,453.8 L677.1,456.4 L678.1,455.0 L683.9,457.3 L684.9,461.2 L679.1,463.6 L671.2,465.2 L669.3,468.1 L664.4,468.1 L659.5,464.2 L651.7,465.2Z M642.0,472.0 L646.8,468.1 L647.8,473.0 L643.9,477.9Z M647.0,494.0 L649.5,492.8 L649.5,500.2 L647.0,500.2Z M663.4,509.1 L668.3,508.1 L672.2,515.9 L667.3,516.9Z M672.2,520.8 L676.1,521.8 L682.0,525.7 L683.0,530.6 L676.1,532.5 L674.8,526.7Z M674.2,548.2 L680.0,546.2 L686.9,539.4 L698.6,534.5 L704.5,536.4 L704.5,539.4 L694.7,543.3 L684.9,547.2 L679.1,550.1 L678.1,555.0 L675.2,553.0Z M689.8,561.8 L693.7,560.9 L695.7,564.8 L691.8,566.7Z M700.8,574.0 L705.8,573.5 L712.0,580.2 L708.2,581.5Z M735.7,562.8 L741.6,557.9 L743.5,566.7 L737.7,566.7Z M729.5,601.5 L738.2,592.8 L749.5,586.5 L762.0,580.2 L768.0,575.2 L769.5,580.2 L768.0,589.0 L759.5,604.0 L749.5,614.0 L739.5,624.0 L733.2,626.0 L732.0,616.5Z M684.5,651.5 L690.8,639.0 L695.8,630.2 L697.0,634.0 L693.2,651.5 L697.0,659.0 L694.5,669.0 L690.0,670.2 L688.2,666.0 L688.2,659.0Z M669.3,672.3 L676.9,667.3 L679.4,668.5 L673.1,673.6Z M436.4,649.2 L443.4,644.5 L447.0,643.4 L449.3,656.2 L459.8,657.4 L469.2,656.2 L470.4,652.7 L477.4,652.0 L479.8,662.8 L484.4,671.5 L505.5,670.3 L513.7,666.8 L530.1,668.0 L534.8,666.3 L538.4,668.0 L539.5,672.7 L565.3,674.5 L570.0,677.3 L591.1,674.5 L588.7,678.5 L587.6,689.1 L593.4,693.7 L598.1,691.4 L607.5,686.7 L616.9,684.4 L626.2,680.9 L629.7,676.2 L628.1,693.7 L626.2,700.8 L616.9,703.1 L607.5,699.6 L584.0,700.8 L560.6,705.5 L541.9,709.0 L518.4,709.7 L517.3,696.1 L504.4,693.7 L490.3,691.4 L473.9,689.1 L457.5,685.5 L436.4,683.2 L431.7,679.7 L431.7,670.3 L435.2,660.9Z M617.0,334.5 L622.0,327.0 L628.2,327.0 L627.0,332.0Z M640.8,335.8 L644.5,334.5 L647.0,339.5 L643.2,339.5Z M129.3,210.3 L132.2,211.2 L135.2,216.1 L134.2,218.1 L131.2,216.1 L129.3,212.2Z" fill="none" stroke="#3a3a3a" stroke-width="0.9" stroke-linejoin="round"/>
<path d="M132.5,62.5 L131.2,72.5 M222.5,62.5 L221.2,72.5 L217.5,75.0 L218.8,82.5 L213.8,90.0 L215.0,100.0 L211.2,107.5 L215.0,117.5 L213.8,127.5 L220.0,142.5 L226.2,150.0 L231.2,163.8 L237.5,166.2 L243.8,165.0 L247.5,171.2 L256.0,171.2 L266.0,168.8 L273.5,166.2 L279.8,165.0 L286.0,167.5 L293.5,170.0 L299.8,163.8 L306.0,163.8 L316.0,150.0 L324.8,143.8 L331.0,145.0 L337.2,141.2 L344.8,142.5 L346.0,145.0 L364.8,145.0 L369.8,140.0 L373.5,143.8 L376.0,125.0 L391.0,124.2 L406.0,126.2 L409.8,121.2 L414.8,120.0 L417.2,122.5 L426.0,118.8 L438.5,121.2 L441.0,117.5 L456.0,113.8 L459.8,111.2 L462.2,115.0 L469.8,113.8 L469.8,107.5 L473.5,106.2 L477.2,108.8 L483.5,102.5 L487.2,107.5 L503.5,102.5 L508.5,113.8 L512.0,116.2 L522.0,123.8 L524.5,118.8 L532.0,118.8 L544.5,125.0 L557.0,135.0 L574.5,128.8 L594.5,125.0 L598.2,127.5 L618.2,122.5 L622.0,116.2 L619.5,107.5 L619.5,100.0 L613.2,92.5 L614.5,88.8 L620.8,86.2 L632.0,88.8 L650.8,100.0 L652.0,115.0 L654.5,123.8 L644.5,126.2 L632.0,135.0 L630.8,142.5 L634.5,156.2 L629.5,166.2 L622.0,170.0 L617.0,181.2 L612.0,182.5 M247.5,171.2 L250.0,175.0 L247.5,185.0 L250.0,197.5 L240.0,207.5 L235.0,217.5 L232.5,222.0 L228.8,232.0 L226.2,242.0 L212.5,245.8 L205.0,252.0 L202.5,254.5 L207.5,264.5 L198.8,272.0 L200.0,277.0 L192.5,283.2 M384.0,62.5 L391.0,82.5 L394.8,86.2 L389.8,98.8 L391.0,124.2 M632.0,88.8 L634.5,78.8 L647.0,77.5 L652.0,65.0 L662.0,65.0 L664.5,62.5 M710.8,62.5 L719.5,70.0 L729.5,65.0 L739.5,62.5" fill="none" stroke="#2a2a2a" stroke-width="1.05" stroke-linejoin="round"/>
<path d="M235.2,216.8 L243.6,225.2 L248.7,240.4 L255.4,255.5 L265.5,265.6 M349.2,420.0 L348.2,432.1 L341.1,440.2 L339.1,450.3 L327.0,455.4 L314.8,449.3 L307.7,457.4 L308.8,472.6 L320.9,480.7 L312.8,489.8 L302.7,490.8 M306.0,163.8 L301.0,171.2 L303.5,180.0 L313.5,187.5 L314.8,200.0 L326.0,212.5 L329.8,221.2 L331.0,222.0 L329.8,232.0 L318.5,249.5 L313.5,254.5 L314.8,265.8 L281.0,262.0 L271.0,267.0 L266.0,265.8 L267.2,277.0 L258.5,282.0 L263.5,297.0 L271.0,307.0 L279.8,319.5 L276.0,329.5 L256.0,334.5 M438.5,121.2 L443.5,130.0 L446.0,140.0 L461.0,147.5 L468.5,151.2 L472.2,157.5 L471.0,166.2 L456.0,178.8 M329.8,232.0 L338.5,237.0 L343.5,234.5 L347.2,247.0 L361.0,254.5 L371.0,254.5 M276.0,329.5 L286.0,323.2 L299.8,322.0 L303.5,332.0 L317.2,340.8 L324.8,335.8 L341.0,319.5 L352.2,325.8 L358.5,338.2 L373.5,344.5 L391.0,344.5 M276.0,329.5 L279.8,339.5 L294.8,357.0 L289.8,365.8 L306.0,372.0 L321.0,365.8 L323.5,377.0 L318.5,394.5 L309.8,402.0" fill="none" stroke="#555" stroke-width="0.7" stroke-linejoin="round"/>
</g>
<rect x="70.5" y="61.5" width="860.7" height="729.0" fill="none" stroke="#333" stroke-width="1.4"/>
<line x1="50" y1="61.5" x2="70.5" y2="61.5" stroke="#333" stroke-width="1.3"/>
<text x="39.8" y="67.9" text-anchor="end" class="tk">42°N</text>
<line x1="50" y1="156.5" x2="70.5" y2="156.5" stroke="#333" stroke-width="1.3"/>
<text x="39.8" y="162.9" text-anchor="end" class="tk">41°N</text>
<line x1="50" y1="251.5" x2="70.5" y2="251.5" stroke="#333" stroke-width="1.3"/>
<text x="39.8" y="257.9" text-anchor="end" class="tk">40°N</text>
<line x1="50" y1="343.5" x2="70.5" y2="343.5" stroke="#333" stroke-width="1.3"/>
<text x="39.8" y="349.9" text-anchor="end" class="tk">39°N</text>
<line x1="50" y1="435.5" x2="70.5" y2="435.5" stroke="#333" stroke-width="1.3"/>
<text x="39.8" y="441.9" text-anchor="end" class="tk">38°N</text>
<line x1="50" y1="525.5" x2="70.5" y2="525.5" stroke="#333" stroke-width="1.3"/>
<text x="39.8" y="531.9" text-anchor="end" class="tk">37°N</text>
<line x1="50" y1="615.5" x2="70.5" y2="615.5" stroke="#333" stroke-width="1.3"/>
<text x="39.8" y="621.9" text-anchor="end" class="tk">36°N</text>
<line x1="50" y1="703.5" x2="70.5" y2="703.5" stroke="#333" stroke-width="1.3"/>
<text x="39.8" y="709.9" text-anchor="end" class="tk">35°N</text>
<line x1="50" y1="790.5" x2="70.5" y2="790.5" stroke="#333" stroke-width="1.3"/>
<text x="39.8" y="796.9" text-anchor="end" class="tk">34°N</text>
<line x1="178.5" y1="790.5" x2="178.5" y2="811.5" stroke="#333" stroke-width="1.3"/>
<line x1="321.5" y1="790.5" x2="321.5" y2="811.5" stroke="#333" stroke-width="1.3"/>
<text x="321.5" y="836.7" text-anchor="middle" class="tk">22°E</text>
<line x1="464.5" y1="790.5" x2="464.5" y2="811.5" stroke="#333" stroke-width="1.3"/>
<text x="464.5" y="836.7" text-anchor="middle" class="tk">24°E</text>
<line x1="608.5" y1="790.5" x2="608.5" y2="811.5" stroke="#333" stroke-width="1.3"/>
<text x="608.5" y="836.7" text-anchor="middle" class="tk">26°E</text>
<line x1="751.5" y1="790.5" x2="751.5" y2="811.5" stroke="#333" stroke-width="1.3"/>
<text x="751.5" y="836.7" text-anchor="middle" class="tk">28°E</text>
<line x1="895.5" y1="790.5" x2="895.5" y2="811.5" stroke="#333" stroke-width="1.3"/>
<text x="895.5" y="836.7" text-anchor="middle" class="tk">30°E</text>
<text x="130" y="201.4" text-anchor="middle" class="cl">7</text>
<text x="130" y="226.4" text-anchor="middle" class="cl">8</text>
<text x="157" y="333.4" text-anchor="middle" class="cl">8</text>
<text x="244" y="347.4" text-anchor="middle" class="cl">7</text>
<text x="104" y="403.4" text-anchor="middle" class="cl">9</text>
<text x="196" y="402.4" text-anchor="middle" class="cl">9</text>
<text x="217" y="401.4" text-anchor="middle" class="cl">8</text>
<text x="242" y="393.4" text-anchor="middle" class="cl">8</text>
<text x="307" y="413.4" text-anchor="middle" class="cl">7</text>
<text x="271" y="468.4" text-anchor="middle" class="cl">7</text>
<text x="291" y="522.4" text-anchor="middle" class="cl">8</text>
<text x="296" y="550.4" text-anchor="middle" class="cl">9</text>
<text x="341" y="544.4" text-anchor="middle" class="cl">7</text>
<text x="162" y="542.4" text-anchor="middle" class="cl">9</text>
<text x="247" y="573.4" text-anchor="middle" class="cl">10</text>
<text x="185" y="630.4" text-anchor="middle" class="cl">9</text>
<text x="393" y="622.4" text-anchor="middle" class="cl">8</text>
<text x="451" y="597.4" text-anchor="middle" class="cl">8</text>
<text x="490" y="514.4" text-anchor="middle" class="cl">7</text>
<text x="431" y="635.4" text-anchor="middle" class="cl">7</text>
<text x="530" y="639.4" text-anchor="middle" class="cl">7</text>
<text x="626" y="652.4" text-anchor="middle" class="cl">7</text>
<text x="390" y="687.4" text-anchor="middle" class="cl">9</text>
<text x="258" y="758.4" text-anchor="middle" class="cl">8</text>
<text x="431" y="766.4" text-anchor="middle" class="cl">8</text>
<text x="554" y="744.4" text-anchor="middle" class="cl">7</text>
<rect x="959" y="24.5" width="34.5" height="114.5" fill="#8F0026" stroke="rgba(40,0,0,0.35)" stroke-width="0.8"/>
<rect x="959" y="139" width="34.5" height="115" fill="#A70026" stroke="rgba(40,0,0,0.35)" stroke-width="0.8"/>
<rect x="959" y="254" width="34.5" height="115" fill="#BB0026" stroke="rgba(40,0,0,0.35)" stroke-width="0.8"/>
<rect x="959" y="369" width="34.5" height="115" fill="#DE1A20" stroke="rgba(40,0,0,0.35)" stroke-width="0.8"/>
<rect x="959" y="484" width="34.5" height="114" fill="#FC592C" stroke="rgba(40,0,0,0.35)" stroke-width="0.8"/>
<rect x="959" y="598" width="34.5" height="115" fill="#FD7E36" stroke="rgba(40,0,0,0.35)" stroke-width="0.8"/>
<rect x="959" y="713" width="34.5" height="114.5" fill="#fff"/>
<rect x="959" y="713" width="34.5" height="114.5" fill="none" stroke="#b0b0b0" stroke-width="1"/>
<line x1="959" y1="139" x2="993.5" y2="139" stroke="rgba(60,0,0,0.7)" stroke-width="0.8"/>
<text x="997.6" y="157.2" class="cb">12</text>
<line x1="959" y1="254" x2="993.5" y2="254" stroke="rgba(60,0,0,0.7)" stroke-width="0.8"/>
<text x="997.6" y="272.2" class="cb">11</text>
<line x1="959" y1="369" x2="993.5" y2="369" stroke="rgba(60,0,0,0.7)" stroke-width="0.8"/>
<text x="997.6" y="387.2" class="cb">10</text>
<line x1="959" y1="484" x2="993.5" y2="484" stroke="rgba(60,0,0,0.7)" stroke-width="0.8"/>
<text x="997.6" y="502.2" class="cb">9</text>
<line x1="959" y1="598" x2="993.5" y2="598" stroke="rgba(60,0,0,0.7)" stroke-width="0.8"/>
<text x="997.6" y="616.2" class="cb">8</text>
<text x="997.6" y="731.2" class="cb">7</text>
<text x="69.5" y="17" class="ti">Max daily wind speed at 10-m (Beaufort)</text>
<text x="69.5" y="43.5" class="ti">BOLAM 6 km</text>
<text x="932" y="39" text-anchor="end" class="ti">Valid time: Fri 05 Apr 2019</text>
<text x="1011.5" y="884.3" text-anchor="end" class="ft">National Observatory of Athens, Greece - meteo.gr</text>
<rect x="44.5" y="792" width="168" height="70" fill="#fdfdfd"/>
<path d="M61.8,855.2 L61.8,810.9 L86.6,810.9 L100.3,826.9 L114,810.9 L139.4,810.9 L139.4,855.2 L118.9,855.2 L118.9,839.6 L106.6,853.6 Q100.3,858.6 94,853.6 L82.3,839.6 L82.3,855.2Z" fill="#1111CC"/>
<circle cx="61.7" cy="810.7" r="13.6" fill="#FFD100"/>
<text x="150" y="825.8" class="lg1">Meteo</text>
<text x="150" y="844.2" class="lg2">Όλα για</text>
<text x="150" y="855.8" class="lg2">τον καιρό</text>
</svg>
</body></html>
